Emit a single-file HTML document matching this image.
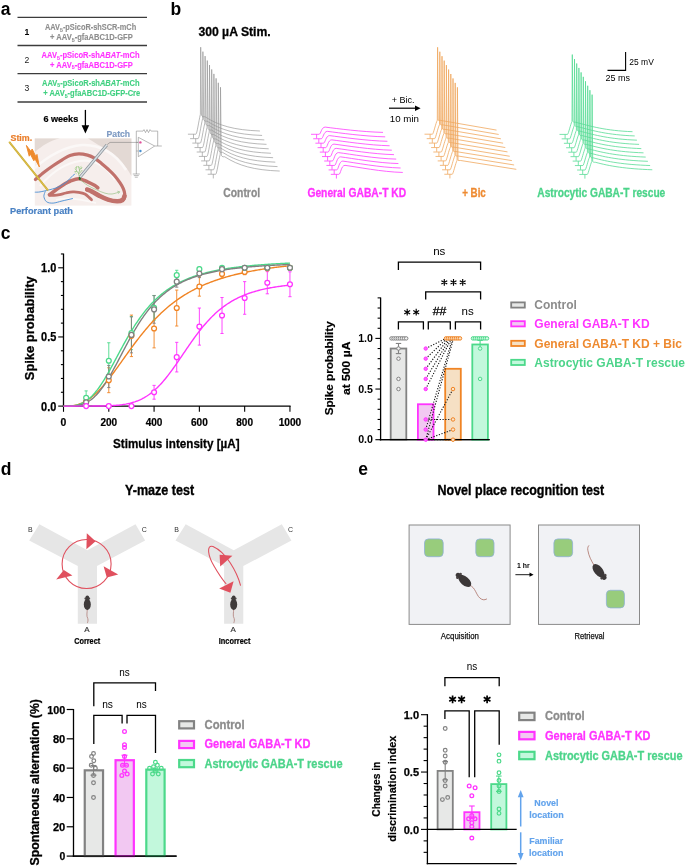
<!DOCTYPE html>
<html><head><meta charset="utf-8"><style>
html,body{margin:0;padding:0;background:#fff;}
svg{display:block;font-family:"Liberation Sans", sans-serif;will-change:transform;}
</style></head><body>
<svg width="685" height="867" viewBox="0 0 685 867">
<rect width="685" height="867" fill="#fff"/>
<text x="0.80" y="14.60" font-size="17.5" fill="#000" font-weight="bold" text-anchor="start">a</text>
<text x="170.50" y="14.70" font-size="17.5" fill="#000" font-weight="bold" text-anchor="start">b</text>
<text x="0.80" y="238.80" font-size="17.5" fill="#000" font-weight="bold" text-anchor="start">c</text>
<text x="0.80" y="474.80" font-size="17.5" fill="#000" font-weight="bold" text-anchor="start">d</text>
<text x="358.20" y="474.60" font-size="17.5" fill="#000" font-weight="bold" text-anchor="start">e</text>
<line x1="17.50" y1="17.40" x2="147.00" y2="17.40" stroke="#3c3c3c" stroke-width="1.3"/>
<line x1="17.50" y1="45.50" x2="147.00" y2="45.50" stroke="#3c3c3c" stroke-width="1.3"/>
<line x1="17.50" y1="73.60" x2="147.00" y2="73.60" stroke="#3c3c3c" stroke-width="1.3"/>
<line x1="17.50" y1="102.00" x2="147.00" y2="102.00" stroke="#3c3c3c" stroke-width="1.3"/>
<text x="24.40" y="34.70" font-size="8.6" fill="#000" font-weight="bold" text-anchor="start">1</text>
<text x="24.40" y="62.90" font-size="8.6" fill="#222" font-weight="normal" text-anchor="start">2</text>
<text x="24.40" y="91.10" font-size="8.6" fill="#222" font-weight="normal" text-anchor="start">3</text>
<text x="45.00" y="30.10" font-size="8.5" fill="#8e8e8e" stroke="#8e8e8e" stroke-width="0.12" font-weight="bold" textLength="91.20" lengthAdjust="spacingAndGlyphs"><tspan>AAV</tspan><tspan font-size="5.95" dy="1.7">5</tspan><tspan dy="-1.7">-pSicoR-shSCR-mCh</tspan></text>
<text x="50.10" y="39.90" font-size="8.5" fill="#8e8e8e" stroke="#8e8e8e" stroke-width="0.12" font-weight="bold" textLength="82.60" lengthAdjust="spacingAndGlyphs"><tspan>+ AAV</tspan><tspan font-size="5.95" dy="1.7">5</tspan><tspan dy="-1.7">-gfaABC1D-GFP</tspan></text>
<text x="41.60" y="58.10" font-size="8.5" fill="#ff33ff" stroke="#ff33ff" stroke-width="0.12" font-weight="bold" textLength="98.00" lengthAdjust="spacingAndGlyphs"><tspan>AAV</tspan><tspan font-size="5.95" dy="1.7">5</tspan><tspan dy="-1.7">-pSicoR-sh</tspan><tspan font-style="italic">ABAT</tspan><tspan>-mCh</tspan></text>
<text x="50.10" y="67.50" font-size="8.5" fill="#ff33ff" stroke="#ff33ff" stroke-width="0.12" font-weight="bold" textLength="82.60" lengthAdjust="spacingAndGlyphs"><tspan>+ AAV</tspan><tspan font-size="5.95" dy="1.7">5</tspan><tspan dy="-1.7">-gfaABC1D-GFP</tspan></text>
<text x="42.00" y="85.60" font-size="8.5" fill="#40d080" stroke="#40d080" stroke-width="0.12" font-weight="bold" textLength="97.50" lengthAdjust="spacingAndGlyphs"><tspan>AAV</tspan><tspan font-size="5.95" dy="1.7">5</tspan><tspan dy="-1.7">-pSicoR-sh</tspan><tspan font-style="italic">ABAT</tspan><tspan>-mCh</tspan></text>
<text x="43.20" y="96.10" font-size="8.5" fill="#40d080" stroke="#40d080" stroke-width="0.12" font-weight="bold" textLength="97.00" lengthAdjust="spacingAndGlyphs"><tspan>+ AAV</tspan><tspan font-size="5.95" dy="1.7">5</tspan><tspan dy="-1.7">-gfaABC1D-GFP-Cre</tspan></text>
<text x="43.40" y="121.70" font-size="9.2" fill="#000" font-weight="bold" text-anchor="start" textLength="34.80" lengthAdjust="spacingAndGlyphs" stroke="#000" stroke-width="0.2">6 weeks</text>
<line x1="85.40" y1="109.90" x2="85.40" y2="127.00" stroke="#000" stroke-width="1.3"/>
<path d="M81.6,125.2 L89.2,125.2 L85.4,133.6 Z" stroke="none" stroke-width="0" fill="#000"/>
<g id="hippo">
<rect x="34.80" y="138.40" width="96.60" height="67.20" fill="#f6eeec" stroke="none" stroke-width="1"/>
<path d="M34.8,138.4 L60,138.4 C50,140 42,146 34.8,152 Z" stroke="none" stroke-width="0" fill="#e3d9d4"/>
<path d="M88,138.4 L131.4,138.4 L131.4,176 C126,166 118,156 108,150 C100,146 94,142 88,138.4 Z" stroke="none" stroke-width="0" fill="#e3d9d4"/>
<path d="M34.8,168 C48,156 66,146 82,145 C100,144 116,154 126,170" stroke="#fbf8f7" stroke-width="2.5" fill="none"/>
<path d="M40,186 C52,172 66,163 80,161 C96,159 108,168 115,180" stroke="#fbf8f7" stroke-width="2.2" fill="none"/>
<path d="M56,200 C66,197 80,199 96,203" stroke="#fbf8f7" stroke-width="1.8" fill="none"/>
<path d="M35.40,179.50 C36.83,178.28 41.07,174.50 44.00,172.20 C46.93,169.90 49.97,167.77 53.00,165.70 C56.03,163.63 59.37,161.52 62.20,159.80 C65.03,158.08 67.23,156.40 70.00,155.40 C72.77,154.40 75.88,153.85 78.80,153.80 C81.72,153.75 84.88,154.38 87.50,155.10 C90.12,155.82 92.17,156.72 94.50,158.10 C96.83,159.48 99.17,161.50 101.50,163.40 C103.83,165.30 106.30,167.45 108.50,169.50 C110.70,171.55 112.80,173.50 114.70,175.70 C116.60,177.90 118.45,180.52 119.90,182.70 C121.35,184.88 122.60,186.92 123.40,188.80 C124.20,190.68 124.55,192.40 124.70,194.00 C124.85,195.60 124.95,197.23 124.30,198.40 C123.65,199.57 122.55,200.57 120.80,201.00 C119.05,201.43 116.43,201.43 113.80,201.00 C111.17,200.57 107.92,199.57 105.00,198.40 C102.08,197.23 98.78,195.32 96.30,194.00 C93.82,192.68 91.72,191.30 90.10,190.50 C88.48,189.70 87.18,189.42 86.60,189.20" stroke="#c1716b" stroke-width="3.2" fill="none" stroke-linecap="round" stroke-linejoin="round"/>
<path d="M124.50,196.00 C124.17,196.67 123.75,199.12 122.50,200.00 C121.25,200.88 119.42,201.37 117.00,201.30 C114.58,201.23 111.00,200.55 108.00,199.60 C105.00,198.65 101.67,196.93 99.00,195.60 C96.33,194.27 93.97,192.60 92.00,191.60 C90.03,190.60 88.00,189.93 87.20,189.60" stroke="#c1716b" stroke-width="4.6" fill="none" stroke-linecap="round"/>
<path d="M49.40,194.80 C50.25,194.17 52.78,192.25 54.50,191.00 C56.22,189.75 57.95,188.50 59.70,187.30 C61.45,186.10 63.28,184.82 65.00,183.80 C66.72,182.78 67.70,182.05 70.00,181.20 C72.30,180.35 75.88,178.60 78.80,178.70 C81.72,178.80 84.88,180.70 87.50,181.80 C90.12,182.90 92.78,184.30 94.50,185.30 C96.22,186.30 97.25,187.38 97.80,187.80" stroke="#c1716b" stroke-width="3.6" fill="none" stroke-linecap="round" stroke-linejoin="round"/>
<path d="M49.40,195.20 C50.17,195.23 52.28,195.50 54.00,195.40 C55.72,195.30 57.70,195.00 59.70,194.60 C61.70,194.20 63.80,193.45 66.00,193.00 C68.20,192.55 70.77,192.02 72.90,191.90 C75.03,191.78 76.80,191.95 78.80,192.30 C80.80,192.65 83.15,193.12 84.90,194.00 C86.65,194.88 88.20,196.65 89.30,197.60 C90.40,198.55 91.13,199.35 91.50,199.70" stroke="#c1716b" stroke-width="2.8" fill="none" stroke-linecap="round" stroke-linejoin="round"/>
<path d="M34.80,192.20 C35.67,192.15 37.72,192.27 40.00,191.90 C42.28,191.53 45.87,190.65 48.50,190.00 C51.13,189.35 53.72,188.75 55.80,188.00 C57.88,187.25 59.25,186.48 61.00,185.50 C62.75,184.52 64.80,183.27 66.30,182.10 C67.80,180.93 68.90,179.60 70.00,178.50 C71.10,177.40 72.10,176.22 72.90,175.50 C73.70,174.78 74.48,174.42 74.80,174.20" stroke="#4a8ed4" stroke-width="0.9" fill="none"/>
<path d="M45.30,191.30 C45.07,192.17 43.68,194.75 43.90,196.50 C44.12,198.25 45.07,200.70 46.60,201.80 C48.13,202.90 50.53,203.23 53.10,203.10 C55.67,202.97 58.70,201.77 62.00,201.00 C65.30,200.23 71.08,198.92 72.90,198.50" stroke="#4a8ed4" stroke-width="0.9" fill="none"/>
<path d="M79.60,179.20 C80.92,180.22 84.72,183.55 87.50,185.30 C90.28,187.05 93.38,188.38 96.30,189.70 C99.22,191.02 102.38,192.48 105.00,193.20 C107.62,193.92 109.58,194.22 112.00,194.00 C114.42,193.78 118.25,192.25 119.50,191.90" stroke="#8cbc78" stroke-width="0.6" fill="none"/>
<path d="M117.3,191.2 L119.7,191.8 L118.2,193.8" stroke="#8cbc78" stroke-width="0.6" fill="none"/>
<path d="M79.6,178 L78.5,173.5 M78.5,173.5 L75.5,169 M78.5,173.5 L80.5,168 M78.8,174 L82.3,170 M77,171.3 L74.4,171.8 M79.6,170.5 L78.5,166.2 M76,169.5 L76.5,166.5 M81.2,169 L82,167" stroke="#86c070" stroke-width="0.7" fill="none"/>
<path d="M74.6,168.5 L77,166.5 L79.6,167.5 L81.5,166.3 M75,172.5 L76.8,174" stroke="#a6d08e" stroke-width="0.6" fill="none"/>
<ellipse cx="79.8" cy="178.4" rx="1.1" ry="1.6" fill="#2b6e2b"/>
<line x1="106.80" y1="145.00" x2="80.20" y2="177.00" stroke="#8a9298" stroke-width="2.9"/>
<line x1="106.80" y1="145.00" x2="80.20" y2="177.00" stroke="#c8d0d6" stroke-width="1.7"/>
<line x1="106.80" y1="145.00" x2="80.20" y2="177.00" stroke="#eef2f4" stroke-width="0.5"/>
<path d="M107.2,144.6 L110,142.4 L138,142.4" stroke="#707070" stroke-width="0.5" fill="none"/>
<line x1="9.20" y1="141.80" x2="48.00" y2="190.40" stroke="#c9a82c" stroke-width="1.9"/>
<line x1="9.20" y1="141.80" x2="48.00" y2="190.40" stroke="#e2c858" stroke-width="0.8"/>
<path d="M26.4,145.4 L30.8,151.2 L32.2,149.0 L35.8,156.4 L37.0,154.4 L39.4,167.0 L35.0,158.9 L33.8,160.8 L30.4,154.2 L29.2,156.2 Z" stroke="#ee8a2c" stroke-width="0.9" fill="#ee8a2c" stroke-linejoin="round"/>
</g>
<path d="M136.3,131.1 L143,131.1 L144,129.6 L145.5,132.6 L147,129.6 L148.5,132.6 L150,129.6 L151.2,131.1 L157.7,131.1 L157.7,146 M154.7,146 L161.8,146 M136.3,131.1 L136.3,174 M138.3,137.3 L138.3,156.7 L154.7,146 Z M136.3,142.4 L138.3,142.4 M136.3,151 L138.3,151 M132.8,174 L139.8,174 M133.8,175.6 L138.8,175.6 M134.8,177.2 L137.8,177.2" stroke="#8a8a8a" stroke-width="0.6" fill="none"/>
<circle cx="140.40" cy="142.40" r="1.2" fill="#e0509a" stroke="none" stroke-width="1"/>
<circle cx="140.40" cy="151.00" r="1.2" fill="#4a90d0" stroke="none" stroke-width="1"/>
<text x="10.50" y="141.00" font-size="8.6" fill="#ea7f2c" font-weight="bold" text-anchor="start" textLength="21.70" lengthAdjust="spacingAndGlyphs" stroke="#ea7f2c" stroke-width="0.2">Stim.</text>
<text x="106.60" y="136.90" font-size="9.6" fill="#7f9bc3" font-weight="bold" text-anchor="start" textLength="23.50" lengthAdjust="spacingAndGlyphs" stroke="#7f9bc3" stroke-width="0.2">Patch</text>
<text x="10.00" y="214.10" font-size="9.6" fill="#4a82c4" font-weight="bold" text-anchor="start" textLength="63.00" lengthAdjust="spacingAndGlyphs" stroke="#4a82c4" stroke-width="0.2">Perforant path</text>
<text x="198.40" y="35.60" font-size="13.2" fill="#000" font-weight="bold" text-anchor="start" textLength="72.30" lengthAdjust="spacingAndGlyphs" stroke="#000" stroke-width="0.3">300 µA Stim.</text>
<path d="M187.90,134.20 h8.0 M193.50,134.20 v4.2 M195.90,134.20 C197.10,133.70 198.50,122.20 200.40,114.20 L200.70,47.20 L201.50,115.20 C202.40,117.20 203.90,116.70 204.90,116.70 C218.90,125.70 233.90,130.00 259.90,131.00" stroke="#939393" stroke-width="0.65" fill="none" stroke-linejoin="round"/>
<path d="M190.10,138.65 h8.0 M195.70,138.65 v4.2 M198.10,138.65 C199.30,138.15 200.70,126.65 202.60,118.65 L202.90,51.65 L203.70,119.65 C204.60,121.65 206.10,121.15 207.10,121.15 C221.10,130.15 236.10,134.45 262.10,135.45" stroke="#939393" stroke-width="0.65" fill="none" stroke-linejoin="round"/>
<path d="M192.30,143.10 h8.0 M197.90,143.10 v4.2 M200.30,143.10 C201.50,142.60 202.90,131.10 204.80,123.10 L205.10,56.10 L205.90,124.10 C206.80,126.10 208.30,125.60 209.30,125.60 C223.30,134.60 238.30,138.90 264.30,139.90" stroke="#939393" stroke-width="0.65" fill="none" stroke-linejoin="round"/>
<path d="M194.50,147.55 h8.0 M200.10,147.55 v4.2 M202.50,147.55 C203.70,147.05 205.10,135.55 207.00,127.55 L207.30,60.55 L208.10,128.55 C209.00,130.55 210.50,130.05 211.50,130.05 C225.50,139.05 240.50,143.35 266.50,144.35" stroke="#939393" stroke-width="0.65" fill="none" stroke-linejoin="round"/>
<path d="M196.70,152.00 h8.0 M202.30,152.00 v4.2 M204.70,152.00 C205.90,151.50 207.30,140.00 209.20,132.00 L209.50,65.00 L210.30,133.00 C211.20,135.00 212.70,134.50 213.70,134.50 C227.70,143.50 242.70,147.80 268.70,148.80" stroke="#939393" stroke-width="0.65" fill="none" stroke-linejoin="round"/>
<path d="M198.90,156.45 h8.0 M204.50,156.45 v4.2 M206.90,156.45 C208.10,155.95 209.50,144.45 211.40,136.45 L211.70,69.45 L212.50,137.45 C213.40,139.45 214.90,138.95 215.90,138.95 C229.90,147.95 244.90,152.25 270.90,153.25" stroke="#939393" stroke-width="0.65" fill="none" stroke-linejoin="round"/>
<path d="M201.10,160.90 h8.0 M206.70,160.90 v4.2 M209.10,160.90 C210.30,160.40 211.70,148.90 213.60,140.90 L213.90,73.90 L214.70,141.90 C215.60,143.90 217.10,143.40 218.10,143.40 C232.10,152.40 247.10,156.70 273.10,157.70" stroke="#939393" stroke-width="0.65" fill="none" stroke-linejoin="round"/>
<path d="M203.30,165.35 h8.0 M208.90,165.35 v4.2 M211.30,165.35 C212.50,164.85 213.90,153.35 215.80,145.35 L216.10,78.35 L216.90,146.35 C217.80,148.35 219.30,147.85 220.30,147.85 C234.30,156.85 249.30,161.15 275.30,162.15" stroke="#939393" stroke-width="0.65" fill="none" stroke-linejoin="round"/>
<path d="M205.50,169.80 h8.0 M211.10,169.80 v4.2 M213.50,169.80 C214.70,169.30 216.10,157.80 218.00,149.80 L218.30,82.80 L219.10,150.80 C220.00,152.80 221.50,152.30 222.50,152.30 C236.50,161.30 251.50,165.60 277.50,166.60" stroke="#939393" stroke-width="0.65" fill="none" stroke-linejoin="round"/>
<path d="M207.70,174.25 h8.0 M213.30,174.25 v4.2 M215.70,174.25 C216.90,173.75 218.30,162.25 220.20,154.25 L220.50,87.25 L221.30,155.25 C222.20,157.25 223.70,156.75 224.70,156.75 C238.70,165.75 253.70,170.05 279.70,171.05" stroke="#939393" stroke-width="0.65" fill="none" stroke-linejoin="round"/>
<path d="M311.00,134.30 h8.0 M316.60,134.30 v4.2 M319.00,134.30 C321.00,134.30 321.20,127.10 325.20,127.10 C337.00,128.60 362.00,131.90 383.00,132.40" stroke="#ff3cff" stroke-width="0.8" fill="none" stroke-linejoin="round"/>
<path d="M313.20,138.75 h8.0 M318.80,138.75 v4.2 M321.20,138.75 C323.20,138.75 323.40,131.35 327.40,131.35 C339.20,132.85 364.20,136.35 385.20,136.85" stroke="#ff3cff" stroke-width="0.8" fill="none" stroke-linejoin="round"/>
<path d="M315.40,143.20 h8.0 M321.00,143.20 v4.2 M323.40,143.20 C325.40,143.20 325.60,135.60 329.60,135.60 C341.40,137.10 366.40,140.80 387.40,141.30" stroke="#ff3cff" stroke-width="0.8" fill="none" stroke-linejoin="round"/>
<path d="M317.60,147.65 h8.0 M323.20,147.65 v4.2 M325.60,147.65 C327.60,147.65 327.80,139.85 331.80,139.85 C343.60,141.35 368.60,145.25 389.60,145.75" stroke="#ff3cff" stroke-width="0.8" fill="none" stroke-linejoin="round"/>
<path d="M319.80,152.10 h8.0 M325.40,152.10 v4.2 M327.80,152.10 C329.80,152.10 330.00,144.10 334.00,144.10 C345.80,145.60 370.80,149.70 391.80,150.20" stroke="#ff3cff" stroke-width="0.8" fill="none" stroke-linejoin="round"/>
<path d="M322.00,156.55 h8.0 M327.60,156.55 v4.2 M330.00,156.55 C332.00,156.55 332.20,148.35 336.20,148.35 C348.00,149.85 373.00,154.15 394.00,154.65" stroke="#ff3cff" stroke-width="0.8" fill="none" stroke-linejoin="round"/>
<path d="M324.20,161.00 h8.0 M329.80,161.00 v4.2 M332.20,161.00 C334.20,161.00 334.40,152.60 338.40,152.60 C350.20,154.10 375.20,158.60 396.20,159.10" stroke="#ff3cff" stroke-width="0.8" fill="none" stroke-linejoin="round"/>
<path d="M326.40,165.45 h8.0 M332.00,165.45 v4.2 M334.40,165.45 C336.40,165.45 336.60,156.85 340.60,156.85 C352.40,158.35 377.40,163.05 398.40,163.55" stroke="#ff3cff" stroke-width="0.8" fill="none" stroke-linejoin="round"/>
<path d="M328.60,169.90 h8.0 M334.20,169.90 v4.2 M336.60,169.90 C338.60,169.90 338.80,161.10 342.80,161.10 C354.60,162.60 379.60,167.50 400.60,168.00" stroke="#ff3cff" stroke-width="0.8" fill="none" stroke-linejoin="round"/>
<path d="M330.80,174.35 h8.0 M336.40,174.35 v4.2 M338.80,174.35 C340.80,174.35 341.00,165.35 345.00,165.35 C356.80,166.85 381.80,171.95 402.80,172.45" stroke="#ff3cff" stroke-width="0.8" fill="none" stroke-linejoin="round"/>
<path d="M424.50,134.20 h8.0 M430.10,134.20 v4.2 M432.50,134.20 C433.50,133.70 435.70,123.20 437.30,120.20 L437.60,47.30 L438.20,120.20 C439.00,120.70 439.50,120.40 440.50,120.40 L496.50,130.10" stroke="#f0a860" stroke-width="0.8" fill="none" stroke-linejoin="round"/>
<path d="M426.70,138.65 h8.0 M432.30,138.65 v4.2 M434.70,138.65 C435.70,138.15 437.90,127.65 439.50,124.65 L439.80,51.75 L440.40,124.65 C441.20,125.15 441.70,124.85 442.70,124.85 L498.70,134.46" stroke="#f0a860" stroke-width="0.8" fill="none" stroke-linejoin="round"/>
<path d="M428.90,143.10 h8.0 M434.50,143.10 v4.2 M436.90,143.10 C437.90,142.60 440.10,132.10 441.70,129.10 L442.00,56.20 L442.60,129.10 C443.40,129.60 443.90,129.30 444.90,129.30 L500.90,138.82" stroke="#f0a860" stroke-width="0.8" fill="none" stroke-linejoin="round"/>
<path d="M431.10,147.55 h8.0 M436.70,147.55 v4.2 M439.10,147.55 C440.10,147.05 442.30,136.55 443.90,133.55 L444.20,60.65 L444.80,133.55 C445.60,134.05 446.10,133.75 447.10,133.75 L503.10,143.18" stroke="#f0a860" stroke-width="0.8" fill="none" stroke-linejoin="round"/>
<path d="M433.30,152.00 h8.0 M438.90,152.00 v4.2 M441.30,152.00 C442.30,151.50 444.50,141.00 446.10,138.00 L446.40,65.10 L447.00,138.00 C447.80,138.50 448.30,138.20 449.30,138.20 L505.30,147.54" stroke="#f0a860" stroke-width="0.8" fill="none" stroke-linejoin="round"/>
<path d="M435.50,156.45 h8.0 M441.10,156.45 v4.2 M443.50,156.45 C444.50,155.95 446.70,145.45 448.30,142.45 L448.60,69.55 L449.20,142.45 C450.00,142.95 450.50,142.65 451.50,142.65 L507.50,151.90" stroke="#f0a860" stroke-width="0.8" fill="none" stroke-linejoin="round"/>
<path d="M437.70,160.90 h8.0 M443.30,160.90 v4.2 M445.70,160.90 C446.70,160.40 448.90,149.90 450.50,146.90 L450.80,74.00 L451.40,146.90 C452.20,147.40 452.70,147.10 453.70,147.10 L509.70,156.26" stroke="#f0a860" stroke-width="0.8" fill="none" stroke-linejoin="round"/>
<path d="M439.90,165.35 h8.0 M445.50,165.35 v4.2 M447.90,165.35 C448.90,164.85 451.10,154.35 452.70,151.35 L453.00,78.45 L453.60,151.35 C454.40,151.85 454.90,151.55 455.90,151.55 L511.90,160.62" stroke="#f0a860" stroke-width="0.8" fill="none" stroke-linejoin="round"/>
<path d="M442.10,169.80 h8.0 M447.70,169.80 v4.2 M450.10,169.80 C451.10,169.30 453.30,158.80 454.90,155.80 L455.20,82.90 L455.80,155.80 C456.60,156.30 457.10,156.00 458.10,156.00 L514.10,164.98" stroke="#f0a860" stroke-width="0.8" fill="none" stroke-linejoin="round"/>
<path d="M444.30,174.25 h8.0 M449.90,174.25 v4.2 M452.30,174.25 C453.30,173.75 455.50,163.25 457.10,160.25 L457.40,87.35 L458.00,160.25 C458.80,160.75 459.30,160.45 460.30,160.45 L516.30,169.34" stroke="#f0a860" stroke-width="0.8" fill="none" stroke-linejoin="round"/>
<path d="M559.50,134.40 h8.0 M565.10,134.40 v4.2 M567.50,134.40 C568.50,133.90 570.50,124.40 572.00,121.40 L572.30,54.60 L572.90,121.40 C573.80,122.40 574.50,122.20 575.50,122.20 C590.50,126.20 605.50,130.70 632.50,131.70" stroke="#58dc96" stroke-width="0.8" fill="none" stroke-linejoin="round"/>
<path d="M561.70,138.85 h8.0 M567.30,138.85 v4.2 M569.70,138.85 C570.70,138.35 572.70,128.85 574.20,125.85 L574.50,59.05 L575.10,125.85 C576.00,126.85 576.70,126.65 577.70,126.65 C592.70,130.65 607.70,134.93 634.70,135.93" stroke="#58dc96" stroke-width="0.8" fill="none" stroke-linejoin="round"/>
<path d="M563.90,143.30 h8.0 M569.50,143.30 v4.2 M571.90,143.30 C572.90,142.80 574.90,133.30 576.40,130.30 L576.70,63.50 L577.30,130.30 C578.20,131.30 578.90,131.10 579.90,131.10 C594.90,135.10 609.90,139.16 636.90,140.16" stroke="#58dc96" stroke-width="0.8" fill="none" stroke-linejoin="round"/>
<path d="M566.10,147.75 h8.0 M571.70,147.75 v4.2 M574.10,147.75 C575.10,147.25 577.10,137.75 578.60,134.75 L578.90,67.95 L579.50,134.75 C580.40,135.75 581.10,135.55 582.10,135.55 C597.10,139.55 612.10,143.39 639.10,144.39" stroke="#58dc96" stroke-width="0.8" fill="none" stroke-linejoin="round"/>
<path d="M568.30,152.20 h8.0 M573.90,152.20 v4.2 M576.30,152.20 C577.30,151.70 579.30,142.20 580.80,139.20 L581.10,72.40 L581.70,139.20 C582.60,140.20 583.30,140.00 584.30,140.00 C599.30,144.00 614.30,147.62 641.30,148.62" stroke="#58dc96" stroke-width="0.8" fill="none" stroke-linejoin="round"/>
<path d="M570.50,156.65 h8.0 M576.10,156.65 v4.2 M578.50,156.65 C579.50,156.15 581.50,146.65 583.00,143.65 L583.30,76.85 L583.90,143.65 C584.80,144.65 585.50,144.45 586.50,144.45 C601.50,148.45 616.50,151.85 643.50,152.85" stroke="#58dc96" stroke-width="0.8" fill="none" stroke-linejoin="round"/>
<path d="M572.70,161.10 h8.0 M578.30,161.10 v4.2 M580.70,161.10 C581.70,160.60 583.70,151.10 585.20,148.10 L585.50,81.30 L586.10,148.10 C587.00,149.10 587.70,148.90 588.70,148.90 C603.70,152.90 618.70,156.08 645.70,157.08" stroke="#58dc96" stroke-width="0.8" fill="none" stroke-linejoin="round"/>
<path d="M574.90,165.55 h8.0 M580.50,165.55 v4.2 M582.90,165.55 C583.90,165.05 585.90,155.55 587.40,152.55 L587.70,85.75 L588.30,152.55 C589.20,153.55 589.90,153.35 590.90,153.35 C605.90,157.35 620.90,160.31 647.90,161.31" stroke="#58dc96" stroke-width="0.8" fill="none" stroke-linejoin="round"/>
<path d="M577.10,170.00 h8.0 M582.70,170.00 v4.2 M585.10,170.00 C586.10,169.50 588.10,160.00 589.60,157.00 L589.90,90.20 L590.50,157.00 C591.40,158.00 592.10,157.80 593.10,157.80 C608.10,161.80 623.10,164.54 650.10,165.54" stroke="#58dc96" stroke-width="0.8" fill="none" stroke-linejoin="round"/>
<path d="M579.30,174.45 h8.0 M584.90,174.45 v4.2 M587.30,174.45 C588.30,173.95 590.30,164.45 591.80,161.45 L592.10,94.65 L592.70,161.45 C593.60,162.45 594.30,162.25 595.30,162.25 C610.30,166.25 625.30,168.77 652.30,169.77" stroke="#58dc96" stroke-width="0.8" fill="none" stroke-linejoin="round"/>
<path d="M607.5,70.4 L625.6,70.4 L625.6,52.1" stroke="#000" stroke-width="1.1" fill="none"/>
<text x="629.30" y="64.60" font-size="9.0" fill="#000" font-weight="normal" text-anchor="start" textLength="24.50" lengthAdjust="spacingAndGlyphs">25 mV</text>
<text x="605.40" y="81.20" font-size="9.0" fill="#000" font-weight="normal" text-anchor="start" textLength="24.50" lengthAdjust="spacingAndGlyphs">25 ms</text>
<text x="391.80" y="102.50" font-size="9.6" fill="#000" font-weight="normal" text-anchor="start" textLength="22.80" lengthAdjust="spacingAndGlyphs">+ Bic.</text>
<line x1="389.00" y1="108.20" x2="416.00" y2="108.20" stroke="#000" stroke-width="1.2"/>
<path d="M415,105.4 L420.6,108.2 L415,111 Z" stroke="none" stroke-width="0" fill="#000"/>
<text x="389.80" y="121.80" font-size="9.6" fill="#000" font-weight="normal" text-anchor="start" textLength="29.20" lengthAdjust="spacingAndGlyphs">10 min</text>
<text x="223.30" y="196.70" font-size="12.0" fill="#8c8c8c" font-weight="bold" text-anchor="start" textLength="36.80" lengthAdjust="spacingAndGlyphs" stroke="#8c8c8c" stroke-width="0.3">Control</text>
<text x="307.40" y="196.70" font-size="12.0" fill="#ff33ff" font-weight="bold" text-anchor="start" textLength="98.80" lengthAdjust="spacingAndGlyphs" stroke="#ff33ff" stroke-width="0.3">General GABA-T KD</text>
<text x="462.20" y="196.70" font-size="12.0" fill="#ee8a30" font-weight="bold" text-anchor="start" textLength="23.60" lengthAdjust="spacingAndGlyphs" stroke="#ee8a30" stroke-width="0.3">+ Bic</text>
<text x="537.30" y="196.70" font-size="12.0" fill="#4cd48a" font-weight="bold" text-anchor="start" textLength="128.00" lengthAdjust="spacingAndGlyphs" stroke="#4cd48a" stroke-width="0.3">Astrocytic GABA-T rescue</text>
<line x1="63.50" y1="253.60" x2="63.50" y2="406.75" stroke="#000" stroke-width="1.3"/>
<line x1="62.85" y1="406.10" x2="290.60" y2="406.10" stroke="#000" stroke-width="1.3"/>
<line x1="58.20" y1="406.10" x2="63.50" y2="406.10" stroke="#000" stroke-width="1.1"/>
<line x1="60.90" y1="392.27" x2="63.50" y2="392.27" stroke="#000" stroke-width="1.1"/>
<line x1="60.90" y1="378.44" x2="63.50" y2="378.44" stroke="#000" stroke-width="1.1"/>
<line x1="60.90" y1="364.61" x2="63.50" y2="364.61" stroke="#000" stroke-width="1.1"/>
<line x1="60.90" y1="350.78" x2="63.50" y2="350.78" stroke="#000" stroke-width="1.1"/>
<line x1="58.20" y1="336.95" x2="63.50" y2="336.95" stroke="#000" stroke-width="1.1"/>
<line x1="60.90" y1="323.12" x2="63.50" y2="323.12" stroke="#000" stroke-width="1.1"/>
<line x1="60.90" y1="309.29" x2="63.50" y2="309.29" stroke="#000" stroke-width="1.1"/>
<line x1="60.90" y1="295.46" x2="63.50" y2="295.46" stroke="#000" stroke-width="1.1"/>
<line x1="60.90" y1="281.63" x2="63.50" y2="281.63" stroke="#000" stroke-width="1.1"/>
<line x1="58.20" y1="267.80" x2="63.50" y2="267.80" stroke="#000" stroke-width="1.1"/>
<line x1="60.90" y1="253.97" x2="63.50" y2="253.97" stroke="#000" stroke-width="1.1"/>
<line x1="63.50" y1="406.10" x2="63.50" y2="411.80" stroke="#000" stroke-width="1.1"/>
<line x1="108.79" y1="406.10" x2="108.79" y2="411.80" stroke="#000" stroke-width="1.1"/>
<line x1="154.08" y1="406.10" x2="154.08" y2="411.80" stroke="#000" stroke-width="1.1"/>
<line x1="199.37" y1="406.10" x2="199.37" y2="411.80" stroke="#000" stroke-width="1.1"/>
<line x1="244.66" y1="406.10" x2="244.66" y2="411.80" stroke="#000" stroke-width="1.1"/>
<line x1="289.95" y1="406.10" x2="289.95" y2="411.80" stroke="#000" stroke-width="1.1"/>
<text x="56.30" y="410.60" font-size="12.0" fill="#000" font-weight="bold" text-anchor="end" textLength="15.20" lengthAdjust="spacingAndGlyphs" stroke="#000" stroke-width="0.25">0.0</text>
<text x="56.30" y="341.45" font-size="12.0" fill="#000" font-weight="bold" text-anchor="end" textLength="15.20" lengthAdjust="spacingAndGlyphs" stroke="#000" stroke-width="0.25">0.5</text>
<text x="56.30" y="272.30" font-size="12.0" fill="#000" font-weight="bold" text-anchor="end" textLength="15.20" lengthAdjust="spacingAndGlyphs" stroke="#000" stroke-width="0.25">1.0</text>
<text x="63.50" y="426.00" font-size="10.6" fill="#000" font-weight="bold" text-anchor="middle" textLength="5.80" lengthAdjust="spacingAndGlyphs" stroke="#000" stroke-width="0.2">0</text>
<text x="108.79" y="426.00" font-size="10.6" fill="#000" font-weight="bold" text-anchor="middle" textLength="16.80" lengthAdjust="spacingAndGlyphs" stroke="#000" stroke-width="0.2">200</text>
<text x="154.08" y="426.00" font-size="10.6" fill="#000" font-weight="bold" text-anchor="middle" textLength="16.80" lengthAdjust="spacingAndGlyphs" stroke="#000" stroke-width="0.2">400</text>
<text x="199.37" y="426.00" font-size="10.6" fill="#000" font-weight="bold" text-anchor="middle" textLength="16.80" lengthAdjust="spacingAndGlyphs" stroke="#000" stroke-width="0.2">600</text>
<text x="244.66" y="426.00" font-size="10.6" fill="#000" font-weight="bold" text-anchor="middle" textLength="16.80" lengthAdjust="spacingAndGlyphs" stroke="#000" stroke-width="0.2">800</text>
<text x="289.95" y="426.00" font-size="10.6" fill="#000" font-weight="bold" text-anchor="middle" textLength="22.60" lengthAdjust="spacingAndGlyphs" stroke="#000" stroke-width="0.2">1000</text>
<text x="113.10" y="448.00" font-size="13.6" fill="#000" font-weight="bold" text-anchor="start" textLength="126.50" lengthAdjust="spacingAndGlyphs" stroke="#000" stroke-width="0.3">Stimulus intensity [µA]</text>
<text x="34.20" y="328.30" font-size="12.4" fill="#000" font-weight="bold" text-anchor="middle" textLength="103.80" lengthAdjust="spacingAndGlyphs" transform="rotate(-90 34.20 328.30)" stroke="#000" stroke-width="0.3">Spike probability</text>
<line x1="86.14" y1="398.77" x2="86.14" y2="404.30" stroke="#f08424" stroke-width="0.9"/>
<line x1="84.55" y1="398.77" x2="87.74" y2="398.77" stroke="#f08424" stroke-width="0.9"/>
<line x1="84.55" y1="404.30" x2="87.74" y2="404.30" stroke="#f08424" stroke-width="0.9"/>
<line x1="108.79" y1="367.79" x2="108.79" y2="392.68" stroke="#f08424" stroke-width="0.9"/>
<line x1="107.19" y1="367.79" x2="110.39" y2="367.79" stroke="#f08424" stroke-width="0.9"/>
<line x1="107.19" y1="392.68" x2="110.39" y2="392.68" stroke="#f08424" stroke-width="0.9"/>
<line x1="131.44" y1="315.10" x2="131.44" y2="356.59" stroke="#f08424" stroke-width="0.9"/>
<line x1="129.84" y1="315.10" x2="133.03" y2="315.10" stroke="#f08424" stroke-width="0.9"/>
<line x1="129.84" y1="356.59" x2="133.03" y2="356.59" stroke="#f08424" stroke-width="0.9"/>
<line x1="154.08" y1="309.15" x2="154.08" y2="347.88" stroke="#f08424" stroke-width="0.9"/>
<line x1="152.48" y1="309.15" x2="155.68" y2="309.15" stroke="#f08424" stroke-width="0.9"/>
<line x1="152.48" y1="347.88" x2="155.68" y2="347.88" stroke="#f08424" stroke-width="0.9"/>
<line x1="176.73" y1="290.07" x2="176.73" y2="326.02" stroke="#f08424" stroke-width="0.9"/>
<line x1="175.13" y1="290.07" x2="178.33" y2="290.07" stroke="#f08424" stroke-width="0.9"/>
<line x1="175.13" y1="326.02" x2="178.33" y2="326.02" stroke="#f08424" stroke-width="0.9"/>
<line x1="199.37" y1="276.79" x2="199.37" y2="296.15" stroke="#f08424" stroke-width="0.9"/>
<line x1="197.77" y1="276.79" x2="200.97" y2="276.79" stroke="#f08424" stroke-width="0.9"/>
<line x1="197.77" y1="296.15" x2="200.97" y2="296.15" stroke="#f08424" stroke-width="0.9"/>
<line x1="222.02" y1="269.74" x2="222.02" y2="278.03" stroke="#f08424" stroke-width="0.9"/>
<line x1="220.42" y1="269.74" x2="223.62" y2="269.74" stroke="#f08424" stroke-width="0.9"/>
<line x1="220.42" y1="278.03" x2="223.62" y2="278.03" stroke="#f08424" stroke-width="0.9"/>
<line x1="244.66" y1="269.18" x2="244.66" y2="274.72" stroke="#f08424" stroke-width="0.9"/>
<line x1="243.06" y1="269.18" x2="246.26" y2="269.18" stroke="#f08424" stroke-width="0.9"/>
<line x1="243.06" y1="274.72" x2="246.26" y2="274.72" stroke="#f08424" stroke-width="0.9"/>
<line x1="267.31" y1="266.97" x2="267.31" y2="269.74" stroke="#f08424" stroke-width="0.9"/>
<line x1="265.70" y1="266.97" x2="268.91" y2="266.97" stroke="#f08424" stroke-width="0.9"/>
<line x1="265.70" y1="269.74" x2="268.91" y2="269.74" stroke="#f08424" stroke-width="0.9"/>
<line x1="86.14" y1="390.89" x2="86.14" y2="404.72" stroke="#4cd98a" stroke-width="0.9"/>
<line x1="84.55" y1="390.89" x2="87.74" y2="390.89" stroke="#4cd98a" stroke-width="0.9"/>
<line x1="84.55" y1="404.72" x2="87.74" y2="404.72" stroke="#4cd98a" stroke-width="0.9"/>
<line x1="108.79" y1="342.76" x2="108.79" y2="378.72" stroke="#4cd98a" stroke-width="0.9"/>
<line x1="107.19" y1="342.76" x2="110.39" y2="342.76" stroke="#4cd98a" stroke-width="0.9"/>
<line x1="107.19" y1="378.72" x2="110.39" y2="378.72" stroke="#4cd98a" stroke-width="0.9"/>
<line x1="131.44" y1="316.48" x2="131.44" y2="349.67" stroke="#4cd98a" stroke-width="0.9"/>
<line x1="129.84" y1="316.48" x2="133.03" y2="316.48" stroke="#4cd98a" stroke-width="0.9"/>
<line x1="129.84" y1="349.67" x2="133.03" y2="349.67" stroke="#4cd98a" stroke-width="0.9"/>
<line x1="154.08" y1="295.46" x2="154.08" y2="320.35" stroke="#4cd98a" stroke-width="0.9"/>
<line x1="152.48" y1="295.46" x2="155.68" y2="295.46" stroke="#4cd98a" stroke-width="0.9"/>
<line x1="152.48" y1="320.35" x2="155.68" y2="320.35" stroke="#4cd98a" stroke-width="0.9"/>
<line x1="176.73" y1="270.29" x2="176.73" y2="279.97" stroke="#4cd98a" stroke-width="0.9"/>
<line x1="175.13" y1="270.29" x2="178.33" y2="270.29" stroke="#4cd98a" stroke-width="0.9"/>
<line x1="175.13" y1="279.97" x2="178.33" y2="279.97" stroke="#4cd98a" stroke-width="0.9"/>
<line x1="199.37" y1="267.11" x2="199.37" y2="271.26" stroke="#4cd98a" stroke-width="0.9"/>
<line x1="197.77" y1="267.11" x2="200.97" y2="267.11" stroke="#4cd98a" stroke-width="0.9"/>
<line x1="197.77" y1="271.26" x2="200.97" y2="271.26" stroke="#4cd98a" stroke-width="0.9"/>
<line x1="86.14" y1="399.60" x2="86.14" y2="405.13" stroke="#808080" stroke-width="0.9"/>
<line x1="84.55" y1="399.60" x2="87.74" y2="399.60" stroke="#808080" stroke-width="0.9"/>
<line x1="84.55" y1="405.13" x2="87.74" y2="405.13" stroke="#808080" stroke-width="0.9"/>
<line x1="108.79" y1="365.44" x2="108.79" y2="387.57" stroke="#808080" stroke-width="0.9"/>
<line x1="107.19" y1="365.44" x2="110.39" y2="365.44" stroke="#808080" stroke-width="0.9"/>
<line x1="107.19" y1="387.57" x2="110.39" y2="387.57" stroke="#808080" stroke-width="0.9"/>
<line x1="131.44" y1="316.90" x2="131.44" y2="352.85" stroke="#808080" stroke-width="0.9"/>
<line x1="129.84" y1="316.90" x2="133.03" y2="316.90" stroke="#808080" stroke-width="0.9"/>
<line x1="129.84" y1="352.85" x2="133.03" y2="352.85" stroke="#808080" stroke-width="0.9"/>
<line x1="154.08" y1="295.60" x2="154.08" y2="323.26" stroke="#808080" stroke-width="0.9"/>
<line x1="152.48" y1="295.60" x2="155.68" y2="295.60" stroke="#808080" stroke-width="0.9"/>
<line x1="152.48" y1="323.26" x2="155.68" y2="323.26" stroke="#808080" stroke-width="0.9"/>
<line x1="176.73" y1="276.10" x2="176.73" y2="287.16" stroke="#808080" stroke-width="0.9"/>
<line x1="175.13" y1="276.10" x2="178.33" y2="276.10" stroke="#808080" stroke-width="0.9"/>
<line x1="175.13" y1="287.16" x2="178.33" y2="287.16" stroke="#808080" stroke-width="0.9"/>
<line x1="199.37" y1="269.32" x2="199.37" y2="277.62" stroke="#808080" stroke-width="0.9"/>
<line x1="197.77" y1="269.32" x2="200.97" y2="269.32" stroke="#808080" stroke-width="0.9"/>
<line x1="197.77" y1="277.62" x2="200.97" y2="277.62" stroke="#808080" stroke-width="0.9"/>
<line x1="222.02" y1="267.80" x2="222.02" y2="270.57" stroke="#808080" stroke-width="0.9"/>
<line x1="220.42" y1="267.80" x2="223.62" y2="267.80" stroke="#808080" stroke-width="0.9"/>
<line x1="220.42" y1="270.57" x2="223.62" y2="270.57" stroke="#808080" stroke-width="0.9"/>
<line x1="154.08" y1="385.36" x2="154.08" y2="399.19" stroke="#ff33ff" stroke-width="0.9"/>
<line x1="152.48" y1="385.36" x2="155.68" y2="385.36" stroke="#ff33ff" stroke-width="0.9"/>
<line x1="152.48" y1="399.19" x2="155.68" y2="399.19" stroke="#ff33ff" stroke-width="0.9"/>
<line x1="176.73" y1="342.34" x2="176.73" y2="371.94" stroke="#ff33ff" stroke-width="0.9"/>
<line x1="175.13" y1="342.34" x2="178.33" y2="342.34" stroke="#ff33ff" stroke-width="0.9"/>
<line x1="175.13" y1="371.94" x2="178.33" y2="371.94" stroke="#ff33ff" stroke-width="0.9"/>
<line x1="199.37" y1="308.05" x2="199.37" y2="345.11" stroke="#ff33ff" stroke-width="0.9"/>
<line x1="197.77" y1="308.05" x2="200.97" y2="308.05" stroke="#ff33ff" stroke-width="0.9"/>
<line x1="197.77" y1="345.11" x2="200.97" y2="345.11" stroke="#ff33ff" stroke-width="0.9"/>
<line x1="222.02" y1="297.53" x2="222.02" y2="333.49" stroke="#ff33ff" stroke-width="0.9"/>
<line x1="220.42" y1="297.53" x2="223.62" y2="297.53" stroke="#ff33ff" stroke-width="0.9"/>
<line x1="220.42" y1="333.49" x2="223.62" y2="333.49" stroke="#ff33ff" stroke-width="0.9"/>
<line x1="244.66" y1="281.63" x2="244.66" y2="314.27" stroke="#ff33ff" stroke-width="0.9"/>
<line x1="243.06" y1="281.63" x2="246.26" y2="281.63" stroke="#ff33ff" stroke-width="0.9"/>
<line x1="243.06" y1="314.27" x2="246.26" y2="314.27" stroke="#ff33ff" stroke-width="0.9"/>
<line x1="267.31" y1="271.67" x2="267.31" y2="293.80" stroke="#ff33ff" stroke-width="0.9"/>
<line x1="265.70" y1="271.67" x2="268.91" y2="271.67" stroke="#ff33ff" stroke-width="0.9"/>
<line x1="265.70" y1="293.80" x2="268.91" y2="293.80" stroke="#ff33ff" stroke-width="0.9"/>
<line x1="289.95" y1="271.81" x2="289.95" y2="296.70" stroke="#ff33ff" stroke-width="0.9"/>
<line x1="288.35" y1="271.81" x2="291.55" y2="271.81" stroke="#ff33ff" stroke-width="0.9"/>
<line x1="288.35" y1="296.70" x2="291.55" y2="296.70" stroke="#ff33ff" stroke-width="0.9"/>
<path d="M63.50,406.10 L64.63,406.10 L65.76,406.09 L66.90,406.06 L68.03,406.02 L69.16,405.95 L70.29,405.86 L71.43,405.75 L72.56,405.60 L73.69,405.42 L74.82,405.21 L75.95,404.96 L77.09,404.67 L78.22,404.34 L79.35,403.98 L80.48,403.56 L81.62,403.11 L82.75,402.61 L83.88,402.07 L85.01,401.48 L86.14,400.84 L87.28,400.15 L88.41,399.42 L89.54,398.64 L90.67,397.82 L91.81,396.95 L92.94,396.03 L94.07,395.06 L95.20,394.06 L96.34,393.01 L97.47,391.91 L98.60,390.78 L99.73,389.60 L100.86,388.39 L102.00,387.14 L103.13,385.85 L104.26,384.53 L105.39,383.18 L106.53,381.80 L107.66,380.39 L108.79,378.96 L109.92,377.50 L111.05,376.02 L112.19,374.52 L113.32,373.00 L114.45,371.47 L115.58,369.92 L116.72,368.36 L117.85,366.79 L118.98,365.21 L120.11,363.63 L121.24,362.04 L122.38,360.45 L123.51,358.86 L124.64,357.28 L125.77,355.69 L126.91,354.11 L128.04,352.53 L129.17,350.96 L130.30,349.40 L131.44,347.85 L132.57,346.31 L133.70,344.78 L134.83,343.27 L135.96,341.77 L137.10,340.28 L138.23,338.81 L139.36,337.35 L140.49,335.91 L141.63,334.49 L142.76,333.09 L143.89,331.70 L145.02,330.34 L146.15,328.99 L147.29,327.67 L148.42,326.36 L149.55,325.07 L150.68,323.81 L151.82,322.56 L152.95,321.34 L154.08,320.13 L155.21,318.95 L156.34,317.78 L157.48,316.64 L158.61,315.52 L159.74,314.42 L160.87,313.34 L162.01,312.27 L163.14,311.23 L164.27,310.21 L165.40,309.21 L166.53,308.23 L167.67,307.26 L168.80,306.32 L169.93,305.39 L171.06,304.48 L172.20,303.59 L173.33,302.72 L174.46,301.87 L175.59,301.03 L176.73,300.21 L177.86,299.41 L178.99,298.63 L180.12,297.86 L181.25,297.10 L182.39,296.36 L183.52,295.64 L184.65,294.93 L185.78,294.24 L186.92,293.56 L188.05,292.90 L189.18,292.25 L190.31,291.61 L191.44,290.99 L192.58,290.38 L193.71,289.78 L194.84,289.19 L195.97,288.62 L197.11,288.06 L198.24,287.51 L199.37,286.97 L200.50,286.45 L201.63,285.93 L202.77,285.43 L203.90,284.93 L205.03,284.45 L206.16,283.97 L207.30,283.51 L208.43,283.05 L209.56,282.61 L210.69,282.17 L211.82,281.75 L212.96,281.33 L214.09,280.92 L215.22,280.52 L216.35,280.12 L217.49,279.74 L218.62,279.36 L219.75,278.99 L220.88,278.63 L222.02,278.27 L223.15,277.92 L224.28,277.58 L225.41,277.25 L226.54,276.92 L227.68,276.60 L228.81,276.29 L229.94,275.98 L231.07,275.67 L232.21,275.38 L233.34,275.09 L234.47,274.80 L235.60,274.52 L236.73,274.25 L237.87,273.98 L239.00,273.72 L240.13,273.46 L241.26,273.20 L242.40,272.95 L243.53,272.71 L244.66,272.47 L245.79,272.23 L246.92,272.00 L248.06,271.78 L249.19,271.55 L250.32,271.34 L251.45,271.12 L252.59,270.91 L253.72,270.71 L254.85,270.50 L255.98,270.30 L257.11,270.11 L258.25,269.92 L259.38,269.73 L260.51,269.54 L261.64,269.36 L262.78,269.18 L263.91,269.01 L265.04,268.84 L266.17,268.67 L267.31,268.50 L268.44,268.34 L269.57,268.18 L270.70,268.02 L271.83,267.87 L272.97,267.71 L274.10,267.56 L275.23,267.42 L276.36,267.27 L277.50,267.13 L278.63,266.99 L279.76,266.85 L280.89,266.72 L282.02,266.58 L283.16,266.45 L284.29,266.33 L285.42,266.20 L286.55,266.08 L287.69,265.95 L288.82,265.83 L289.95,265.71" stroke="#f08424" stroke-width="1.4" fill="none"/>
<path d="M63.50,406.10 L64.63,406.10 L65.76,406.10 L66.90,406.08 L68.03,406.06 L69.16,406.02 L70.29,405.96 L71.43,405.88 L72.56,405.77 L73.69,405.63 L74.82,405.46 L75.95,405.24 L77.09,404.98 L78.22,404.67 L79.35,404.31 L80.48,403.90 L81.62,403.43 L82.75,402.89 L83.88,402.30 L85.01,401.64 L86.14,400.91 L87.28,400.11 L88.41,399.23 L89.54,398.29 L90.67,397.27 L91.81,396.17 L92.94,395.01 L94.07,393.76 L95.20,392.45 L96.34,391.06 L97.47,389.61 L98.60,388.08 L99.73,386.49 L100.86,384.84 L102.00,383.13 L103.13,381.36 L104.26,379.54 L105.39,377.67 L106.53,375.76 L107.66,373.80 L108.79,371.81 L109.92,369.79 L111.05,367.74 L112.19,365.67 L113.32,363.59 L114.45,361.48 L115.58,359.37 L116.72,357.26 L117.85,355.14 L118.98,353.03 L120.11,350.92 L121.24,348.83 L122.38,346.75 L123.51,344.68 L124.64,342.64 L125.77,340.61 L126.91,338.61 L128.04,336.64 L129.17,334.70 L130.30,332.79 L131.44,330.91 L132.57,329.06 L133.70,327.25 L134.83,325.48 L135.96,323.74 L137.10,322.04 L138.23,320.37 L139.36,318.75 L140.49,317.16 L141.63,315.61 L142.76,314.10 L143.89,312.62 L145.02,311.19 L146.15,309.79 L147.29,308.43 L148.42,307.10 L149.55,305.81 L150.68,304.56 L151.82,303.34 L152.95,302.16 L154.08,301.01 L155.21,299.89 L156.34,298.81 L157.48,297.76 L158.61,296.73 L159.74,295.74 L160.87,294.78 L162.01,293.85 L163.14,292.94 L164.27,292.06 L165.40,291.21 L166.53,290.38 L167.67,289.58 L168.80,288.80 L169.93,288.04 L171.06,287.31 L172.20,286.60 L173.33,285.91 L174.46,285.25 L175.59,284.60 L176.73,283.97 L177.86,283.36 L178.99,282.77 L180.12,282.19 L181.25,281.64 L182.39,281.10 L183.52,280.57 L184.65,280.06 L185.78,279.57 L186.92,279.09 L188.05,278.63 L189.18,278.17 L190.31,277.74 L191.44,277.31 L192.58,276.90 L193.71,276.50 L194.84,276.11 L195.97,275.73 L197.11,275.36 L198.24,275.00 L199.37,274.66 L200.50,274.32 L201.63,273.99 L202.77,273.67 L203.90,273.36 L205.03,273.06 L206.16,272.77 L207.30,272.48 L208.43,272.20 L209.56,271.94 L210.69,271.67 L211.82,271.42 L212.96,271.17 L214.09,270.93 L215.22,270.69 L216.35,270.46 L217.49,270.24 L218.62,270.02 L219.75,269.81 L220.88,269.60 L222.02,269.40 L223.15,269.21 L224.28,269.02 L225.41,268.83 L226.54,268.65 L227.68,268.47 L228.81,268.30 L229.94,268.14 L231.07,267.97 L232.21,267.81 L233.34,267.66 L234.47,267.50 L235.60,267.36 L236.73,267.21 L237.87,267.07 L239.00,266.93 L240.13,266.80 L241.26,266.67 L242.40,266.54 L243.53,266.42 L244.66,266.29 L245.79,266.17 L246.92,266.06 L248.06,265.94 L249.19,265.83 L250.32,265.72 L251.45,265.62 L252.59,265.52 L253.72,265.41 L254.85,265.31 L255.98,265.22 L257.11,265.12 L258.25,265.03 L259.38,264.94 L260.51,264.85 L261.64,264.76 L262.78,264.68 L263.91,264.60 L265.04,264.52 L266.17,264.44 L267.31,264.36 L268.44,264.28 L269.57,264.21 L270.70,264.14 L271.83,264.06 L272.97,263.99 L274.10,263.93 L275.23,263.86 L276.36,263.79 L277.50,263.73 L278.63,263.67 L279.76,263.60 L280.89,263.54 L282.02,263.48 L283.16,263.43 L284.29,263.37 L285.42,263.31 L286.55,263.26 L287.69,263.21 L288.82,263.15 L289.95,263.10" stroke="#4cd98a" stroke-width="1.4" fill="none"/>
<path d="M63.50,406.10 L64.63,406.10 L65.76,406.10 L66.90,406.09 L68.03,406.08 L69.16,406.07 L70.29,406.04 L71.43,406.00 L72.56,405.94 L73.69,405.86 L74.82,405.76 L75.95,405.63 L77.09,405.47 L78.22,405.28 L79.35,405.05 L80.48,404.78 L81.62,404.47 L82.75,404.11 L83.88,403.69 L85.01,403.23 L86.14,402.70 L87.28,402.11 L88.41,401.47 L89.54,400.75 L90.67,399.97 L91.81,399.12 L92.94,398.19 L94.07,397.19 L95.20,396.12 L96.34,394.98 L97.47,393.76 L98.60,392.46 L99.73,391.09 L100.86,389.66 L102.00,388.14 L103.13,386.57 L104.26,384.92 L105.39,383.21 L106.53,381.44 L107.66,379.62 L108.79,377.74 L109.92,375.81 L111.05,373.84 L112.19,371.83 L113.32,369.78 L114.45,367.70 L115.58,365.60 L116.72,363.47 L117.85,361.33 L118.98,359.17 L120.11,357.01 L121.24,354.84 L122.38,352.68 L123.51,350.52 L124.64,348.37 L125.77,346.24 L126.91,344.12 L128.04,342.02 L129.17,339.94 L130.30,337.89 L131.44,335.87 L132.57,333.88 L133.70,331.92 L134.83,329.99 L135.96,328.10 L137.10,326.25 L138.23,324.44 L139.36,322.66 L140.49,320.93 L141.63,319.23 L142.76,317.58 L143.89,315.97 L145.02,314.39 L146.15,312.86 L147.29,311.37 L148.42,309.93 L149.55,308.52 L150.68,307.15 L151.82,305.82 L152.95,304.53 L154.08,303.28 L155.21,302.06 L156.34,300.88 L157.48,299.74 L158.61,298.63 L159.74,297.56 L160.87,296.52 L162.01,295.51 L163.14,294.53 L164.27,293.59 L165.40,292.67 L166.53,291.79 L167.67,290.93 L168.80,290.10 L169.93,289.29 L171.06,288.52 L172.20,287.76 L173.33,287.03 L174.46,286.33 L175.59,285.65 L176.73,284.99 L177.86,284.35 L178.99,283.73 L180.12,283.13 L181.25,282.55 L182.39,281.99 L183.52,281.45 L184.65,280.92 L185.78,280.41 L186.92,279.92 L188.05,279.44 L189.18,278.98 L190.31,278.53 L191.44,278.10 L192.58,277.68 L193.71,277.27 L194.84,276.87 L195.97,276.49 L197.11,276.12 L198.24,275.76 L199.37,275.41 L200.50,275.08 L201.63,274.75 L202.77,274.43 L203.90,274.12 L205.03,273.83 L206.16,273.54 L207.30,273.25 L208.43,272.98 L209.56,272.72 L210.69,272.46 L211.82,272.21 L212.96,271.97 L214.09,271.73 L215.22,271.50 L216.35,271.28 L217.49,271.07 L218.62,270.86 L219.75,270.65 L220.88,270.46 L222.02,270.26 L223.15,270.08 L224.28,269.89 L225.41,269.72 L226.54,269.55 L227.68,269.38 L228.81,269.22 L229.94,269.06 L231.07,268.90 L232.21,268.75 L233.34,268.61 L234.47,268.47 L235.60,268.33 L236.73,268.19 L237.87,268.06 L239.00,267.93 L240.13,267.81 L241.26,267.69 L242.40,267.57 L243.53,267.45 L244.66,267.34 L245.79,267.23 L246.92,267.13 L248.06,267.02 L249.19,266.92 L250.32,266.82 L251.45,266.73 L252.59,266.63 L253.72,266.54 L254.85,266.45 L255.98,266.36 L257.11,266.28 L258.25,266.19 L259.38,266.11 L260.51,266.03 L261.64,265.96 L262.78,265.88 L263.91,265.81 L265.04,265.73 L266.17,265.66 L267.31,265.59 L268.44,265.53 L269.57,265.46 L270.70,265.40 L271.83,265.33 L272.97,265.27 L274.10,265.21 L275.23,265.15 L276.36,265.10 L277.50,265.04 L278.63,264.98 L279.76,264.93 L280.89,264.88 L282.02,264.83 L283.16,264.78 L284.29,264.73 L285.42,264.68 L286.55,264.63 L287.69,264.59 L288.82,264.54 L289.95,264.50" stroke="#808080" stroke-width="1.4" fill="none"/>
<path d="M63.50,406.10 L64.63,406.10 L65.76,406.10 L66.90,406.10 L68.03,406.10 L69.16,406.10 L70.29,406.10 L71.43,406.10 L72.56,406.10 L73.69,406.10 L74.82,406.10 L75.95,406.10 L77.09,406.10 L78.22,406.10 L79.35,406.10 L80.48,406.10 L81.62,406.10 L82.75,406.10 L83.88,406.10 L85.01,406.10 L86.14,406.09 L87.28,406.09 L88.41,406.09 L89.54,406.09 L90.67,406.08 L91.81,406.08 L92.94,406.07 L94.07,406.07 L95.20,406.06 L96.34,406.05 L97.47,406.04 L98.60,406.03 L99.73,406.01 L100.86,406.00 L102.00,405.98 L103.13,405.96 L104.26,405.93 L105.39,405.90 L106.53,405.87 L107.66,405.83 L108.79,405.79 L109.92,405.74 L111.05,405.68 L112.19,405.62 L113.32,405.55 L114.45,405.48 L115.58,405.39 L116.72,405.30 L117.85,405.20 L118.98,405.08 L120.11,404.96 L121.24,404.82 L122.38,404.67 L123.51,404.50 L124.64,404.32 L125.77,404.13 L126.91,403.91 L128.04,403.68 L129.17,403.43 L130.30,403.16 L131.44,402.86 L132.57,402.54 L133.70,402.20 L134.83,401.84 L135.96,401.44 L137.10,401.02 L138.23,400.57 L139.36,400.09 L140.49,399.58 L141.63,399.03 L142.76,398.45 L143.89,397.84 L145.02,397.19 L146.15,396.50 L147.29,395.78 L148.42,395.02 L149.55,394.21 L150.68,393.37 L151.82,392.49 L152.95,391.56 L154.08,390.60 L155.21,389.59 L156.34,388.54 L157.48,387.45 L158.61,386.32 L159.74,385.14 L160.87,383.93 L162.01,382.68 L163.14,381.39 L164.27,380.06 L165.40,378.69 L166.53,377.29 L167.67,375.86 L168.80,374.40 L169.93,372.90 L171.06,371.38 L172.20,369.83 L173.33,368.26 L174.46,366.67 L175.59,365.06 L176.73,363.43 L177.86,361.79 L178.99,360.14 L180.12,358.48 L181.25,356.81 L182.39,355.14 L183.52,353.47 L184.65,351.80 L185.78,350.13 L186.92,348.47 L188.05,346.82 L189.18,345.17 L190.31,343.54 L191.44,341.93 L192.58,340.33 L193.71,338.75 L194.84,337.18 L195.97,335.64 L197.11,334.13 L198.24,332.63 L199.37,331.16 L200.50,329.72 L201.63,328.30 L202.77,326.92 L203.90,325.56 L205.03,324.23 L206.16,322.92 L207.30,321.65 L208.43,320.41 L209.56,319.20 L210.69,318.02 L211.82,316.87 L212.96,315.75 L214.09,314.66 L215.22,313.59 L216.35,312.56 L217.49,311.56 L218.62,310.59 L219.75,309.64 L220.88,308.72 L222.02,307.84 L223.15,306.97 L224.28,306.14 L225.41,305.33 L226.54,304.54 L227.68,303.78 L228.81,303.05 L229.94,302.33 L231.07,301.64 L232.21,300.98 L233.34,300.33 L234.47,299.71 L235.60,299.11 L236.73,298.52 L237.87,297.96 L239.00,297.41 L240.13,296.89 L241.26,296.38 L242.40,295.89 L243.53,295.41 L244.66,294.95 L245.79,294.51 L246.92,294.08 L248.06,293.67 L249.19,293.27 L250.32,292.88 L251.45,292.51 L252.59,292.15 L253.72,291.80 L254.85,291.46 L255.98,291.14 L257.11,290.82 L258.25,290.52 L259.38,290.23 L260.51,289.94 L261.64,289.67 L262.78,289.40 L263.91,289.15 L265.04,288.90 L266.17,288.66 L267.31,288.43 L268.44,288.21 L269.57,287.99 L270.70,287.79 L271.83,287.58 L272.97,287.39 L274.10,287.20 L275.23,287.02 L276.36,286.84 L277.50,286.67 L278.63,286.51 L279.76,286.35 L280.89,286.19 L282.02,286.05 L283.16,285.90 L284.29,285.76 L285.42,285.63 L286.55,285.50 L287.69,285.37 L288.82,285.25 L289.95,285.13" stroke="#ff33ff" stroke-width="1.4" fill="none"/>
<circle cx="86.14" cy="401.54" r="2.45" fill="#fff" stroke="#f08424" stroke-width="1.25"/>
<circle cx="108.79" cy="380.24" r="2.45" fill="#fff" stroke="#f08424" stroke-width="1.25"/>
<circle cx="131.44" cy="335.84" r="2.45" fill="#fff" stroke="#f08424" stroke-width="1.25"/>
<circle cx="154.08" cy="328.51" r="2.45" fill="#fff" stroke="#f08424" stroke-width="1.25"/>
<circle cx="176.73" cy="308.05" r="2.45" fill="#fff" stroke="#f08424" stroke-width="1.25"/>
<circle cx="199.37" cy="286.47" r="2.45" fill="#fff" stroke="#f08424" stroke-width="1.25"/>
<circle cx="222.02" cy="273.89" r="2.45" fill="#fff" stroke="#f08424" stroke-width="1.25"/>
<circle cx="244.66" cy="271.95" r="2.45" fill="#fff" stroke="#f08424" stroke-width="1.25"/>
<circle cx="267.31" cy="268.35" r="2.45" fill="#fff" stroke="#f08424" stroke-width="1.25"/>
<circle cx="289.95" cy="267.80" r="2.45" fill="#fff" stroke="#f08424" stroke-width="1.25"/>
<circle cx="86.14" cy="397.80" r="2.45" fill="#fff" stroke="#4cd98a" stroke-width="1.25"/>
<circle cx="108.79" cy="360.74" r="2.45" fill="#fff" stroke="#4cd98a" stroke-width="1.25"/>
<circle cx="131.44" cy="333.08" r="2.45" fill="#fff" stroke="#4cd98a" stroke-width="1.25"/>
<circle cx="154.08" cy="307.91" r="2.45" fill="#fff" stroke="#4cd98a" stroke-width="1.25"/>
<circle cx="176.73" cy="275.13" r="2.45" fill="#fff" stroke="#4cd98a" stroke-width="1.25"/>
<circle cx="199.37" cy="269.18" r="2.45" fill="#fff" stroke="#4cd98a" stroke-width="1.25"/>
<circle cx="222.02" cy="267.80" r="2.45" fill="#fff" stroke="#4cd98a" stroke-width="1.25"/>
<circle cx="244.66" cy="267.80" r="2.45" fill="#fff" stroke="#4cd98a" stroke-width="1.25"/>
<circle cx="267.31" cy="267.80" r="2.45" fill="#fff" stroke="#4cd98a" stroke-width="1.25"/>
<circle cx="289.95" cy="267.80" r="2.45" fill="#fff" stroke="#4cd98a" stroke-width="1.25"/>
<circle cx="86.14" cy="402.37" r="2.45" fill="#fff" stroke="#808080" stroke-width="1.25"/>
<circle cx="108.79" cy="376.50" r="2.45" fill="#fff" stroke="#808080" stroke-width="1.25"/>
<circle cx="131.44" cy="334.88" r="2.45" fill="#fff" stroke="#808080" stroke-width="1.25"/>
<circle cx="154.08" cy="309.43" r="2.45" fill="#fff" stroke="#808080" stroke-width="1.25"/>
<circle cx="176.73" cy="281.63" r="2.45" fill="#fff" stroke="#808080" stroke-width="1.25"/>
<circle cx="199.37" cy="273.47" r="2.45" fill="#fff" stroke="#808080" stroke-width="1.25"/>
<circle cx="222.02" cy="269.18" r="2.45" fill="#fff" stroke="#808080" stroke-width="1.25"/>
<circle cx="244.66" cy="267.80" r="2.45" fill="#fff" stroke="#808080" stroke-width="1.25"/>
<circle cx="267.31" cy="267.80" r="2.45" fill="#fff" stroke="#808080" stroke-width="1.25"/>
<circle cx="289.95" cy="267.80" r="2.45" fill="#fff" stroke="#808080" stroke-width="1.25"/>
<circle cx="86.14" cy="406.10" r="2.45" fill="#fff" stroke="#ff33ff" stroke-width="1.25"/>
<circle cx="108.79" cy="406.10" r="2.45" fill="#fff" stroke="#ff33ff" stroke-width="1.25"/>
<circle cx="131.44" cy="406.10" r="2.45" fill="#fff" stroke="#ff33ff" stroke-width="1.25"/>
<circle cx="154.08" cy="392.27" r="2.45" fill="#fff" stroke="#ff33ff" stroke-width="1.25"/>
<circle cx="176.73" cy="357.14" r="2.45" fill="#fff" stroke="#ff33ff" stroke-width="1.25"/>
<circle cx="199.37" cy="326.58" r="2.45" fill="#fff" stroke="#ff33ff" stroke-width="1.25"/>
<circle cx="222.02" cy="315.51" r="2.45" fill="#fff" stroke="#ff33ff" stroke-width="1.25"/>
<circle cx="244.66" cy="297.95" r="2.45" fill="#fff" stroke="#ff33ff" stroke-width="1.25"/>
<circle cx="267.31" cy="282.74" r="2.45" fill="#fff" stroke="#ff33ff" stroke-width="1.25"/>
<circle cx="289.95" cy="284.26" r="2.45" fill="#fff" stroke="#ff33ff" stroke-width="1.25"/>
<line x1="380.60" y1="297.50" x2="380.60" y2="440.35" stroke="#000" stroke-width="1.3"/>
<line x1="379.75" y1="439.70" x2="489.60" y2="439.70" stroke="#000" stroke-width="1.3"/>
<line x1="375.40" y1="439.70" x2="380.60" y2="439.70" stroke="#000" stroke-width="1.1"/>
<line x1="377.60" y1="429.57" x2="380.60" y2="429.57" stroke="#000" stroke-width="1.1"/>
<line x1="377.60" y1="419.44" x2="380.60" y2="419.44" stroke="#000" stroke-width="1.1"/>
<line x1="377.60" y1="409.31" x2="380.60" y2="409.31" stroke="#000" stroke-width="1.1"/>
<line x1="377.60" y1="399.18" x2="380.60" y2="399.18" stroke="#000" stroke-width="1.1"/>
<line x1="375.40" y1="389.05" x2="380.60" y2="389.05" stroke="#000" stroke-width="1.1"/>
<line x1="377.60" y1="378.92" x2="380.60" y2="378.92" stroke="#000" stroke-width="1.1"/>
<line x1="377.60" y1="368.79" x2="380.60" y2="368.79" stroke="#000" stroke-width="1.1"/>
<line x1="377.60" y1="358.66" x2="380.60" y2="358.66" stroke="#000" stroke-width="1.1"/>
<line x1="377.60" y1="348.53" x2="380.60" y2="348.53" stroke="#000" stroke-width="1.1"/>
<line x1="375.40" y1="338.40" x2="380.60" y2="338.40" stroke="#000" stroke-width="1.1"/>
<line x1="377.60" y1="328.27" x2="380.60" y2="328.27" stroke="#000" stroke-width="1.1"/>
<line x1="377.60" y1="318.14" x2="380.60" y2="318.14" stroke="#000" stroke-width="1.1"/>
<line x1="377.60" y1="308.01" x2="380.60" y2="308.01" stroke="#000" stroke-width="1.1"/>
<line x1="377.60" y1="297.88" x2="380.60" y2="297.88" stroke="#000" stroke-width="1.1"/>
<text x="373.00" y="443.40" font-size="10.4" fill="#000" font-weight="bold" text-anchor="end" textLength="14.80" lengthAdjust="spacingAndGlyphs">0.0</text>
<text x="373.00" y="392.75" font-size="10.4" fill="#000" font-weight="bold" text-anchor="end" textLength="14.80" lengthAdjust="spacingAndGlyphs">0.5</text>
<text x="373.00" y="342.10" font-size="10.4" fill="#000" font-weight="bold" text-anchor="end" textLength="14.80" lengthAdjust="spacingAndGlyphs">1.0</text>
<text x="333.00" y="368.30" font-size="11.6" fill="#000" font-weight="bold" text-anchor="middle" textLength="94.00" lengthAdjust="spacingAndGlyphs" transform="rotate(-90 333.00 368.30)" stroke="#000" stroke-width="0.2">Spike probability</text>
<text x="349.60" y="368.30" font-size="11.6" fill="#000" font-weight="bold" text-anchor="middle" textLength="53.50" lengthAdjust="spacingAndGlyphs" transform="rotate(-90 349.60 368.30)" stroke="#000" stroke-width="0.2">at 500 µA</text>
<rect x="390.70" y="348.53" width="15.60" height="91.17" fill="#e7e8e7" stroke="#828282" stroke-width="1.8"/>
<rect x="417.90" y="404.25" width="15.60" height="35.45" fill="#f2c8f2" stroke="#ff33ff" stroke-width="1.8"/>
<rect x="445.20" y="368.79" width="15.60" height="70.91" fill="#f6e0c4" stroke="#f08424" stroke-width="1.8"/>
<rect x="472.30" y="344.48" width="15.60" height="95.22" fill="#c2f8dc" stroke="#4cd98a" stroke-width="1.8"/>
<line x1="379.75" y1="439.70" x2="489.60" y2="439.70" stroke="#000" stroke-width="1.3"/>
<line x1="398.50" y1="343.46" x2="398.50" y2="353.60" stroke="#828282" stroke-width="1.1"/>
<line x1="395.80" y1="343.46" x2="401.20" y2="343.46" stroke="#828282" stroke-width="1.1"/>
<line x1="395.80" y1="353.60" x2="401.20" y2="353.60" stroke="#828282" stroke-width="1.1"/>
<line x1="480.10" y1="340.43" x2="480.10" y2="348.53" stroke="#4cd98a" stroke-width="1.1"/>
<line x1="477.40" y1="340.43" x2="482.80" y2="340.43" stroke="#4cd98a" stroke-width="1.1"/>
<line x1="425.70" y1="348.53" x2="445.80" y2="338.40" stroke="#111" stroke-width="1.1" stroke-dasharray="1.2 1.6"/>
<line x1="425.70" y1="358.66" x2="447.00" y2="338.40" stroke="#111" stroke-width="1.1" stroke-dasharray="1.2 1.6"/>
<line x1="425.70" y1="368.79" x2="448.50" y2="338.40" stroke="#111" stroke-width="1.1" stroke-dasharray="1.2 1.6"/>
<line x1="425.70" y1="378.92" x2="450.00" y2="338.40" stroke="#111" stroke-width="1.1" stroke-dasharray="1.2 1.6"/>
<line x1="425.70" y1="389.05" x2="451.50" y2="338.40" stroke="#111" stroke-width="1.1" stroke-dasharray="1.2 1.6"/>
<line x1="425.70" y1="429.57" x2="452.50" y2="338.40" stroke="#111" stroke-width="1.1" stroke-dasharray="1.2 1.6"/>
<line x1="425.70" y1="439.70" x2="453.50" y2="338.40" stroke="#111" stroke-width="1.1" stroke-dasharray="1.2 1.6"/>
<line x1="425.70" y1="419.44" x2="453.00" y2="419.44" stroke="#111" stroke-width="1.1" stroke-dasharray="1.2 1.6"/>
<line x1="425.70" y1="439.70" x2="453.00" y2="389.05" stroke="#111" stroke-width="1.1" stroke-dasharray="1.2 1.6"/>
<line x1="425.70" y1="439.70" x2="453.00" y2="429.57" stroke="#111" stroke-width="1.1" stroke-dasharray="1.2 1.6"/>
<line x1="425.70" y1="439.70" x2="453.00" y2="439.70" stroke="#111" stroke-width="1.1" stroke-dasharray="1.2 1.6"/>
<circle cx="391.50" cy="338.40" r="1.75" fill="#f4f4f4" stroke="#828282" stroke-width="1.0"/>
<circle cx="393.60" cy="338.40" r="1.75" fill="#f4f4f4" stroke="#828282" stroke-width="1.0"/>
<circle cx="395.70" cy="338.40" r="1.75" fill="#f4f4f4" stroke="#828282" stroke-width="1.0"/>
<circle cx="397.80" cy="338.40" r="1.75" fill="#f4f4f4" stroke="#828282" stroke-width="1.0"/>
<circle cx="399.90" cy="338.40" r="1.75" fill="#f4f4f4" stroke="#828282" stroke-width="1.0"/>
<circle cx="402.00" cy="338.40" r="1.75" fill="#f4f4f4" stroke="#828282" stroke-width="1.0"/>
<circle cx="404.10" cy="338.40" r="1.75" fill="#f4f4f4" stroke="#828282" stroke-width="1.0"/>
<circle cx="406.20" cy="338.40" r="1.75" fill="#f4f4f4" stroke="#828282" stroke-width="1.0"/>
<circle cx="398.50" cy="348.53" r="1.75" fill="#f4f4f4" stroke="#828282" stroke-width="1.0"/>
<circle cx="398.50" cy="358.66" r="1.75" fill="#f4f4f4" stroke="#828282" stroke-width="1.0"/>
<circle cx="398.50" cy="378.92" r="1.75" fill="#f4f4f4" stroke="#828282" stroke-width="1.0"/>
<circle cx="398.50" cy="389.05" r="1.75" fill="#f4f4f4" stroke="#828282" stroke-width="1.0"/>
<circle cx="425.70" cy="348.53" r="1.7" fill="#ff66ff" stroke="#ff33ff" stroke-width="1.0"/>
<circle cx="425.70" cy="358.66" r="1.7" fill="#ff66ff" stroke="#ff33ff" stroke-width="1.0"/>
<circle cx="425.70" cy="368.79" r="1.7" fill="#ff66ff" stroke="#ff33ff" stroke-width="1.0"/>
<circle cx="425.70" cy="378.92" r="1.7" fill="#ff66ff" stroke="#ff33ff" stroke-width="1.0"/>
<circle cx="425.70" cy="389.05" r="1.7" fill="#ff66ff" stroke="#ff33ff" stroke-width="1.0"/>
<circle cx="425.70" cy="419.44" r="1.7" fill="#ff66ff" stroke="#ff33ff" stroke-width="1.0"/>
<circle cx="425.70" cy="429.57" r="1.7" fill="#ff66ff" stroke="#ff33ff" stroke-width="1.0"/>
<circle cx="425.70" cy="439.70" r="1.7" fill="#ff66ff" stroke="#ff33ff" stroke-width="1.0"/>
<circle cx="446.00" cy="338.40" r="1.75" fill="#fbe3c8" stroke="#f08424" stroke-width="1.0"/>
<circle cx="448.00" cy="338.40" r="1.75" fill="#fbe3c8" stroke="#f08424" stroke-width="1.0"/>
<circle cx="450.00" cy="338.40" r="1.75" fill="#fbe3c8" stroke="#f08424" stroke-width="1.0"/>
<circle cx="452.00" cy="338.40" r="1.75" fill="#fbe3c8" stroke="#f08424" stroke-width="1.0"/>
<circle cx="454.00" cy="338.40" r="1.75" fill="#fbe3c8" stroke="#f08424" stroke-width="1.0"/>
<circle cx="456.00" cy="338.40" r="1.75" fill="#fbe3c8" stroke="#f08424" stroke-width="1.0"/>
<circle cx="458.00" cy="338.40" r="1.75" fill="#fbe3c8" stroke="#f08424" stroke-width="1.0"/>
<circle cx="460.00" cy="338.40" r="1.75" fill="#fbe3c8" stroke="#f08424" stroke-width="1.0"/>
<circle cx="453.00" cy="389.05" r="1.75" fill="#fbe3c8" stroke="#f08424" stroke-width="1.0"/>
<circle cx="453.00" cy="419.44" r="1.75" fill="#fbe3c8" stroke="#f08424" stroke-width="1.0"/>
<circle cx="453.00" cy="429.57" r="1.75" fill="#fbe3c8" stroke="#f08424" stroke-width="1.0"/>
<circle cx="453.00" cy="439.70" r="1.75" fill="#fbe3c8" stroke="#f08424" stroke-width="1.0"/>
<circle cx="473.00" cy="338.40" r="1.75" fill="#d8fbe8" stroke="#4cd98a" stroke-width="1.0"/>
<circle cx="475.00" cy="338.40" r="1.75" fill="#d8fbe8" stroke="#4cd98a" stroke-width="1.0"/>
<circle cx="477.00" cy="338.40" r="1.75" fill="#d8fbe8" stroke="#4cd98a" stroke-width="1.0"/>
<circle cx="479.00" cy="338.40" r="1.75" fill="#d8fbe8" stroke="#4cd98a" stroke-width="1.0"/>
<circle cx="481.00" cy="338.40" r="1.75" fill="#d8fbe8" stroke="#4cd98a" stroke-width="1.0"/>
<circle cx="483.00" cy="338.40" r="1.75" fill="#d8fbe8" stroke="#4cd98a" stroke-width="1.0"/>
<circle cx="485.00" cy="338.40" r="1.75" fill="#d8fbe8" stroke="#4cd98a" stroke-width="1.0"/>
<circle cx="487.00" cy="338.40" r="1.75" fill="#d8fbe8" stroke="#4cd98a" stroke-width="1.0"/>
<circle cx="480.10" cy="348.53" r="1.75" fill="#d8fbe8" stroke="#4cd98a" stroke-width="1.0"/>
<circle cx="480.10" cy="378.92" r="1.75" fill="#d8fbe8" stroke="#4cd98a" stroke-width="1.0"/>
<path d="M398.40,269.90 L398.40,262.20 L480.60,262.20 L480.60,269.90" stroke="#000" stroke-width="1.3" fill="none"/>
<path d="M425.70,299.60 L425.70,291.90 L480.60,291.90 L480.60,299.60" stroke="#000" stroke-width="1.3" fill="none"/>
<path d="M398.40,329.50 L398.40,321.80 L423.40,321.80 L423.40,329.50" stroke="#000" stroke-width="1.3" fill="none"/>
<path d="M428.30,329.50 L428.30,321.80 L450.30,321.80 L450.30,329.50" stroke="#000" stroke-width="1.3" fill="none"/>
<path d="M455.40,329.50 L455.40,321.80 L480.60,321.80 L480.60,329.50" stroke="#000" stroke-width="1.3" fill="none"/>
<text x="439.30" y="254.50" font-size="11.6" fill="#000" font-weight="normal" text-anchor="middle" textLength="12.20" lengthAdjust="spacingAndGlyphs">ns</text>
<path d="M444.30,279.00 L444.30,285.80 M447.24,280.70 L441.36,284.10 M447.24,284.10 L441.36,280.70 " stroke="#000" stroke-width="1.15" fill="none"/>
<path d="M453.50,279.00 L453.50,285.80 M456.44,280.70 L450.56,284.10 M456.44,284.10 L450.56,280.70 " stroke="#000" stroke-width="1.15" fill="none"/>
<path d="M462.70,279.00 L462.70,285.80 M465.64,280.70 L459.76,284.10 M465.64,284.10 L459.76,280.70 " stroke="#000" stroke-width="1.15" fill="none"/>
<path d="M407.20,308.80 L407.20,315.60 M410.14,310.50 L404.26,313.90 M410.14,313.90 L404.26,310.50 " stroke="#000" stroke-width="1.15" fill="none"/>
<path d="M416.20,308.80 L416.20,315.60 M419.14,310.50 L413.26,313.90 M419.14,313.90 L413.26,310.50 " stroke="#000" stroke-width="1.15" fill="none"/>
<text x="439.50" y="314.60" font-size="11.6" fill="#000" font-weight="normal" text-anchor="middle" textLength="13.60" lengthAdjust="spacingAndGlyphs" stroke="#000" stroke-width="0.3">##</text>
<text x="467.60" y="314.70" font-size="11.6" fill="#000" font-weight="normal" text-anchor="middle" textLength="12.20" lengthAdjust="spacingAndGlyphs">ns</text>
<rect x="511.20" y="302.40" width="13.60" height="5.20" fill="#e7e8e7" stroke="#828282" stroke-width="1.8"/>
<text x="534.30" y="309.00" font-size="12.0" fill="#8c8c8c" font-weight="bold" text-anchor="start">Control</text>
<rect x="511.20" y="321.20" width="13.60" height="5.20" fill="#f2c8f2" stroke="#ff33ff" stroke-width="1.8"/>
<text x="534.30" y="327.90" font-size="12.0" fill="#ff33ff" font-weight="bold" text-anchor="start">General GABA-T KD</text>
<rect x="511.20" y="340.80" width="13.60" height="5.20" fill="#f6e0c4" stroke="#f08424" stroke-width="1.8"/>
<text x="534.30" y="347.60" font-size="12.0" fill="#ee8a30" font-weight="bold" text-anchor="start">General GABA-T KD + Bic</text>
<rect x="511.20" y="359.80" width="13.60" height="5.20" fill="#c2f8dc" stroke="#4cd98a" stroke-width="1.8"/>
<text x="534.30" y="366.60" font-size="12.0" fill="#4cd48a" font-weight="bold" text-anchor="start">Astrocytic GABA-T rescue</text>
<text x="125.00" y="495.30" font-size="14.6" fill="#000" font-weight="bold" text-anchor="start" textLength="69.20" lengthAdjust="spacingAndGlyphs" stroke="#000" stroke-width="0.35">Y-maze test</text>
<path d="M77.80,623.80 L97.00,623.80 L97.00,566.10 L145.10,540.50 L135.50,524.20 L87.40,550.20 L39.40,524.20 L29.20,540.50 L77.80,566.10 Z" stroke="none" stroke-width="0" fill="#e6e6e6"/>
<path d="M224.10,623.80 L243.30,623.80 L243.30,566.10 L291.40,540.50 L281.80,524.20 L233.70,550.20 L185.70,524.20 L175.50,540.50 L224.10,566.10 Z" stroke="none" stroke-width="0" fill="#e6e6e6"/>
<circle cx="86.60" cy="564.00" r="24.5" fill="none" stroke="#e0505e" stroke-width="1.1"/>
<path d="M86.8,533.2 L95.6,541.2 L86.4,549.2 Z" stroke="none" stroke-width="0" fill="#e0505e"/>
<path d="M103.6,566.2 L118.2,574.4 L106.8,577.6 Z" stroke="none" stroke-width="0" fill="#e0505e"/>
<path d="M72.4,575.4 L56.2,579.6 L63.8,570.0 Z" stroke="none" stroke-width="0" fill="#e0505e"/>
<path d="M240.6,585.5 C236,570 222,546 210.5,546.6 C204,548 214,566 226.5,583.5" stroke="none" stroke-width="0" fill="none"/>
<path d="M240.6,585.6 C237,572 226,552 213,546.5 C206,544.5 208,556 214,566 C218,573 222,579 226.2,584" stroke="#e0505e" stroke-width="1.1" fill="none"/>
<path d="M219.2,588.6 L233.6,581.2 L230.4,592.8 Z" stroke="none" stroke-width="0" fill="#e0505e"/>
<path d="M220.2,566.4 L219.6,554.8 L232.4,555.8 Z" stroke="none" stroke-width="0" fill="#e0505e"/>
<g transform="translate(87.30,603.60) rotate(0) scale(1.0)">
<path d="M0,5 C0,9 -1.2,12 0.5,15 C1.2,17 0,19 0.2,19.5" stroke="#a8706a" stroke-width="0.7" fill="none"/>
<ellipse cx="0" cy="0.8" rx="3.5" ry="5.6" fill="#3e3a3a"/>
<ellipse cx="0" cy="-5.0" rx="2.0" ry="3.0" fill="#3e3a3a"/>
<circle cx="-1.9" cy="-5.2" r="1.0" fill="#4a4545"/><circle cx="1.9" cy="-5.2" r="1.0" fill="#4a4545"/>
</g>
<g transform="translate(233.70,603.60) rotate(0) scale(1.0)">
<path d="M0,5 C0,9 -1.2,12 0.5,15 C1.2,17 0,19 0.2,19.5" stroke="#a8706a" stroke-width="0.7" fill="none"/>
<ellipse cx="0" cy="0.8" rx="3.5" ry="5.6" fill="#3e3a3a"/>
<ellipse cx="0" cy="-5.0" rx="2.0" ry="3.0" fill="#3e3a3a"/>
<circle cx="-1.9" cy="-5.2" r="1.0" fill="#4a4545"/><circle cx="1.9" cy="-5.2" r="1.0" fill="#4a4545"/>
</g>
<text x="30.30" y="532.00" font-size="7.0" fill="#333" font-weight="normal" text-anchor="middle">B</text>
<text x="144.30" y="532.00" font-size="7.0" fill="#333" font-weight="normal" text-anchor="middle">C</text>
<text x="86.80" y="632.00" font-size="8.0" fill="#333" font-weight="normal" text-anchor="middle" stroke="#333" stroke-width="0.15">A</text>
<text x="176.60" y="532.00" font-size="7.0" fill="#333" font-weight="normal" text-anchor="middle">B</text>
<text x="290.60" y="532.00" font-size="7.0" fill="#333" font-weight="normal" text-anchor="middle">C</text>
<text x="233.10" y="632.00" font-size="8.0" fill="#333" font-weight="normal" text-anchor="middle" stroke="#333" stroke-width="0.15">A</text>
<text x="87.20" y="643.70" font-size="8.4" fill="#000" font-weight="bold" text-anchor="middle" textLength="26.00" lengthAdjust="spacingAndGlyphs" stroke="#000" stroke-width="0.2">Correct</text>
<text x="234.60" y="643.70" font-size="8.4" fill="#000" font-weight="bold" text-anchor="middle" textLength="31.60" lengthAdjust="spacingAndGlyphs" stroke="#000" stroke-width="0.2">Incorrect</text>
<line x1="73.50" y1="709.00" x2="73.50" y2="856.75" stroke="#000" stroke-width="1.3"/>
<line x1="72.85" y1="856.10" x2="176.60" y2="856.10" stroke="#000" stroke-width="1.3"/>
<line x1="66.70" y1="856.10" x2="73.50" y2="856.10" stroke="#000" stroke-width="1.2"/>
<line x1="66.70" y1="826.78" x2="73.50" y2="826.78" stroke="#000" stroke-width="1.2"/>
<line x1="66.70" y1="797.46" x2="73.50" y2="797.46" stroke="#000" stroke-width="1.2"/>
<line x1="66.70" y1="768.14" x2="73.50" y2="768.14" stroke="#000" stroke-width="1.2"/>
<line x1="66.70" y1="738.82" x2="73.50" y2="738.82" stroke="#000" stroke-width="1.2"/>
<line x1="66.70" y1="709.50" x2="73.50" y2="709.50" stroke="#000" stroke-width="1.2"/>
<text x="65.30" y="860.40" font-size="10.6" fill="#000" font-weight="bold" text-anchor="end" textLength="5.80" lengthAdjust="spacingAndGlyphs" stroke="#000" stroke-width="0.25">0</text>
<text x="65.30" y="831.08" font-size="10.6" fill="#000" font-weight="bold" text-anchor="end" textLength="12.40" lengthAdjust="spacingAndGlyphs" stroke="#000" stroke-width="0.25">20</text>
<text x="65.30" y="801.76" font-size="10.6" fill="#000" font-weight="bold" text-anchor="end" textLength="12.40" lengthAdjust="spacingAndGlyphs" stroke="#000" stroke-width="0.25">40</text>
<text x="65.30" y="772.44" font-size="10.6" fill="#000" font-weight="bold" text-anchor="end" textLength="12.40" lengthAdjust="spacingAndGlyphs" stroke="#000" stroke-width="0.25">60</text>
<text x="65.30" y="743.12" font-size="10.6" fill="#000" font-weight="bold" text-anchor="end" textLength="12.40" lengthAdjust="spacingAndGlyphs" stroke="#000" stroke-width="0.25">80</text>
<text x="65.30" y="713.80" font-size="10.6" fill="#000" font-weight="bold" text-anchor="end" textLength="18.00" lengthAdjust="spacingAndGlyphs" stroke="#000" stroke-width="0.25">100</text>
<text x="38.80" y="782.30" font-size="12.6" fill="#000" font-weight="bold" text-anchor="middle" textLength="166.40" lengthAdjust="spacingAndGlyphs" transform="rotate(-90 38.80 782.30)" stroke="#000" stroke-width="0.3">Spontaneous alternation (%)</text>
<rect x="84.75" y="770.34" width="18.30" height="85.76" fill="#e7e8e7" stroke="#828282" stroke-width="2.2"/>
<rect x="115.55" y="760.22" width="18.30" height="95.88" fill="#f2c8f2" stroke="#ff33ff" stroke-width="2.2"/>
<rect x="146.30" y="769.61" width="18.30" height="86.49" fill="#c2f8dc" stroke="#4cd98a" stroke-width="2.2"/>
<line x1="72.85" y1="856.10" x2="176.60" y2="856.10" stroke="#000" stroke-width="1.3"/>
<line x1="93.50" y1="765.50" x2="93.50" y2="775.18" stroke="#828282" stroke-width="1.1"/>
<line x1="90.50" y1="765.50" x2="96.50" y2="765.50" stroke="#828282" stroke-width="1.1"/>
<line x1="90.50" y1="775.18" x2="96.50" y2="775.18" stroke="#828282" stroke-width="1.1"/>
<line x1="124.50" y1="755.24" x2="124.50" y2="765.21" stroke="#ff33ff" stroke-width="1.1"/>
<line x1="121.50" y1="755.24" x2="127.50" y2="755.24" stroke="#ff33ff" stroke-width="1.1"/>
<line x1="121.50" y1="765.21" x2="127.50" y2="765.21" stroke="#ff33ff" stroke-width="1.1"/>
<line x1="155.40" y1="768.14" x2="155.40" y2="771.07" stroke="#4cd98a" stroke-width="1.1"/>
<line x1="152.40" y1="768.14" x2="158.40" y2="768.14" stroke="#4cd98a" stroke-width="1.1"/>
<line x1="152.40" y1="771.07" x2="158.40" y2="771.07" stroke="#4cd98a" stroke-width="1.1"/>
<circle cx="93.50" cy="753.48" r="1.85" fill="none" stroke="#828282" stroke-width="1.2"/>
<circle cx="91.50" cy="756.41" r="1.85" fill="none" stroke="#828282" stroke-width="1.2"/>
<circle cx="93.80" cy="760.81" r="1.85" fill="none" stroke="#828282" stroke-width="1.2"/>
<circle cx="91.20" cy="765.21" r="1.85" fill="none" stroke="#828282" stroke-width="1.2"/>
<circle cx="95.40" cy="768.14" r="1.85" fill="none" stroke="#828282" stroke-width="1.2"/>
<circle cx="93.50" cy="775.47" r="1.85" fill="none" stroke="#828282" stroke-width="1.2"/>
<circle cx="93.50" cy="782.80" r="1.85" fill="none" stroke="#828282" stroke-width="1.2"/>
<circle cx="93.50" cy="797.46" r="1.85" fill="none" stroke="#828282" stroke-width="1.2"/>
<circle cx="124.50" cy="731.49" r="1.85" fill="none" stroke="#ff33ff" stroke-width="1.3"/>
<circle cx="124.50" cy="744.68" r="1.85" fill="none" stroke="#ff33ff" stroke-width="1.3"/>
<circle cx="124.50" cy="747.62" r="1.85" fill="none" stroke="#ff33ff" stroke-width="1.3"/>
<circle cx="124.50" cy="756.41" r="1.85" fill="none" stroke="#ff33ff" stroke-width="1.3"/>
<circle cx="122.50" cy="765.21" r="1.85" fill="none" stroke="#ff33ff" stroke-width="1.3"/>
<circle cx="126.50" cy="765.21" r="1.85" fill="none" stroke="#ff33ff" stroke-width="1.3"/>
<circle cx="124.50" cy="771.07" r="1.85" fill="none" stroke="#ff33ff" stroke-width="1.3"/>
<circle cx="121.80" cy="775.47" r="1.85" fill="none" stroke="#ff33ff" stroke-width="1.3"/>
<circle cx="127.20" cy="774.00" r="1.85" fill="none" stroke="#ff33ff" stroke-width="1.3"/>
<circle cx="155.40" cy="762.28" r="1.85" fill="none" stroke="#4cd98a" stroke-width="1.2"/>
<circle cx="149.50" cy="768.14" r="1.85" fill="none" stroke="#4cd98a" stroke-width="1.2"/>
<circle cx="153.50" cy="766.67" r="1.85" fill="none" stroke="#4cd98a" stroke-width="1.2"/>
<circle cx="157.40" cy="765.21" r="1.85" fill="none" stroke="#4cd98a" stroke-width="1.2"/>
<circle cx="161.30" cy="768.14" r="1.85" fill="none" stroke="#4cd98a" stroke-width="1.2"/>
<circle cx="152.50" cy="774.00" r="1.85" fill="none" stroke="#4cd98a" stroke-width="1.2"/>
<circle cx="158.30" cy="774.00" r="1.85" fill="none" stroke="#4cd98a" stroke-width="1.2"/>
<circle cx="155.40" cy="771.07" r="1.85" fill="none" stroke="#4cd98a" stroke-width="1.2"/>
<path d="M93.80,706.30 L93.80,682.90 L155.50,682.90 L155.50,691.10" stroke="#000" stroke-width="1.3" fill="none"/>
<path d="M93.80,744.10 L93.80,715.40 L122.10,715.40 L122.10,723.50" stroke="#000" stroke-width="1.3" fill="none"/>
<path d="M127.00,723.50 L127.00,715.40 L155.50,715.40 L155.50,753.00" stroke="#000" stroke-width="1.3" fill="none"/>
<text x="124.60" y="675.90" font-size="11.6" fill="#000" font-weight="normal" text-anchor="middle" textLength="10.50" lengthAdjust="spacingAndGlyphs">ns</text>
<text x="107.60" y="707.90" font-size="11.6" fill="#000" font-weight="normal" text-anchor="middle" textLength="10.80" lengthAdjust="spacingAndGlyphs">ns</text>
<text x="141.60" y="707.90" font-size="11.6" fill="#000" font-weight="normal" text-anchor="middle" textLength="10.50" lengthAdjust="spacingAndGlyphs">ns</text>
<rect x="179.20" y="721.20" width="14.80" height="7.20" fill="#e7e8e7" stroke="#828282" stroke-width="2.2"/>
<text x="204.50" y="729.20" font-size="12.6" fill="#8c8c8c" font-weight="bold" text-anchor="start" textLength="40.10" lengthAdjust="spacingAndGlyphs" stroke="#8c8c8c" stroke-width="0.3">Control</text>
<rect x="179.20" y="740.90" width="14.80" height="7.20" fill="#f2c8f2" stroke="#ff33ff" stroke-width="2.2"/>
<text x="204.50" y="747.80" font-size="12.6" fill="#ff33ff" font-weight="bold" text-anchor="start" textLength="106.00" lengthAdjust="spacingAndGlyphs" stroke="#ff33ff" stroke-width="0.3">General GABA-T KD</text>
<rect x="179.20" y="760.00" width="14.80" height="7.20" fill="#c2f8dc" stroke="#4cd98a" stroke-width="2.2"/>
<text x="204.50" y="767.50" font-size="12.6" fill="#4cd48a" font-weight="bold" text-anchor="start" textLength="138.00" lengthAdjust="spacingAndGlyphs" stroke="#4cd48a" stroke-width="0.3">Astrocytic GABA-T rescue</text>
<text x="437.50" y="495.20" font-size="14.6" fill="#000" font-weight="bold" text-anchor="start" textLength="166.70" lengthAdjust="spacingAndGlyphs" stroke="#000" stroke-width="0.35">Novel place recognition test</text>
<rect x="409.10" y="525.00" width="101.00" height="99.40" fill="#f1f2f5" stroke="#8a8a8a" stroke-width="1.0"/>
<rect x="538.50" y="525.00" width="101.00" height="99.40" fill="#f1f2f5" stroke="#8a8a8a" stroke-width="1.0"/>
<rect x="424.50" y="538.90" width="18.70" height="17.80" rx="4" ry="4" fill="#98cc7c" stroke="#8fb0d6" stroke-width="0.8"/>
<rect x="475.80" y="538.90" width="18.20" height="17.80" rx="4" ry="4" fill="#98cc7c" stroke="#8fb0d6" stroke-width="0.8"/>
<rect x="553.90" y="538.90" width="18.70" height="17.80" rx="4" ry="4" fill="#98cc7c" stroke="#8fb0d6" stroke-width="0.8"/>
<rect x="606.40" y="590.30" width="18.00" height="17.60" rx="4" ry="4" fill="#98cc7c" stroke="#8fb0d6" stroke-width="0.8"/>
<g transform="translate(464.40,580.60) rotate(-49)">
<path d="M0,7 C2,13 -3,18 -3,23 C-3,26 -2,28 1,29" stroke="#b07a70" stroke-width="0.8" fill="none"/>
<ellipse cx="0" cy="0.5" rx="4.3" ry="7.8" fill="#3c3838"/>
<ellipse cx="0" cy="-7.5" rx="2.5" ry="3.3" fill="#3c3838"/>
<ellipse cx="-2.6" cy="-7.2" rx="1.1" ry="1.3" fill="#4a4444"/><ellipse cx="2.6" cy="-7.2" rx="1.1" ry="1.3" fill="#4a4444"/>
</g>
<g transform="translate(598.80,571.10) rotate(140)">
<path d="M0,7 C-1,13 -2,18 -5,23 C-6,25 -8,26 -9,26" stroke="#b07a70" stroke-width="0.8" fill="none"/>
<ellipse cx="0" cy="0.5" rx="4.3" ry="7.8" fill="#3c3838"/>
<ellipse cx="0" cy="-7.5" rx="2.5" ry="3.3" fill="#3c3838"/>
<ellipse cx="-2.6" cy="-7.2" rx="1.1" ry="1.3" fill="#4a4444"/><ellipse cx="2.6" cy="-7.2" rx="1.1" ry="1.3" fill="#4a4444"/>
</g>
<text x="517.00" y="567.90" font-size="7.8" fill="#000" font-weight="bold" text-anchor="start" textLength="12.60" lengthAdjust="spacingAndGlyphs">1 hr</text>
<line x1="515.40" y1="574.70" x2="530.00" y2="574.70" stroke="#000" stroke-width="0.9"/>
<path d="M529.5,572.6 L533.6,574.7 L529.5,576.8 Z" stroke="none" stroke-width="0" fill="#000"/>
<text x="459.90" y="638.70" font-size="8.8" fill="#111" font-weight="normal" text-anchor="middle" textLength="38.10" lengthAdjust="spacingAndGlyphs" stroke="#111" stroke-width="0.25">Acquisition</text>
<text x="589.50" y="638.70" font-size="8.8" fill="#111" font-weight="normal" text-anchor="middle" textLength="30.00" lengthAdjust="spacingAndGlyphs" stroke="#111" stroke-width="0.25">Retrieval</text>
<line x1="427.40" y1="714.10" x2="427.40" y2="864.25" stroke="#000" stroke-width="1.3"/>
<line x1="426.75" y1="863.60" x2="516.70" y2="863.60" stroke="#000" stroke-width="1.3"/>
<line x1="423.60" y1="852.34" x2="427.50" y2="852.34" stroke="#000" stroke-width="1.1"/>
<line x1="423.60" y1="840.87" x2="427.50" y2="840.87" stroke="#000" stroke-width="1.1"/>
<line x1="421.00" y1="829.40" x2="427.50" y2="829.40" stroke="#000" stroke-width="1.1"/>
<line x1="423.60" y1="817.93" x2="427.50" y2="817.93" stroke="#000" stroke-width="1.1"/>
<line x1="423.60" y1="806.46" x2="427.50" y2="806.46" stroke="#000" stroke-width="1.1"/>
<line x1="423.60" y1="794.99" x2="427.50" y2="794.99" stroke="#000" stroke-width="1.1"/>
<line x1="423.60" y1="783.52" x2="427.50" y2="783.52" stroke="#000" stroke-width="1.1"/>
<line x1="421.00" y1="772.05" x2="427.50" y2="772.05" stroke="#000" stroke-width="1.1"/>
<line x1="423.60" y1="760.58" x2="427.50" y2="760.58" stroke="#000" stroke-width="1.1"/>
<line x1="423.60" y1="749.11" x2="427.50" y2="749.11" stroke="#000" stroke-width="1.1"/>
<line x1="423.60" y1="737.64" x2="427.50" y2="737.64" stroke="#000" stroke-width="1.1"/>
<line x1="423.60" y1="726.17" x2="427.50" y2="726.17" stroke="#000" stroke-width="1.1"/>
<line x1="421.00" y1="714.70" x2="427.50" y2="714.70" stroke="#000" stroke-width="1.1"/>
<text x="419.10" y="833.80" font-size="11.2" fill="#000" font-weight="bold" text-anchor="end" textLength="15.40" lengthAdjust="spacingAndGlyphs" stroke="#000" stroke-width="0.25">0.0</text>
<text x="419.10" y="776.45" font-size="11.2" fill="#000" font-weight="bold" text-anchor="end" textLength="15.40" lengthAdjust="spacingAndGlyphs" stroke="#000" stroke-width="0.25">0.5</text>
<text x="419.10" y="719.10" font-size="11.2" fill="#000" font-weight="bold" text-anchor="end" textLength="15.40" lengthAdjust="spacingAndGlyphs" stroke="#000" stroke-width="0.25">1.0</text>
<text x="380.20" y="789.20" font-size="11.6" fill="#000" font-weight="bold" text-anchor="middle" textLength="55.00" lengthAdjust="spacingAndGlyphs" transform="rotate(-90 380.20 789.20)" stroke="#000" stroke-width="0.2">Changes in</text>
<text x="395.60" y="788.70" font-size="11.6" fill="#000" font-weight="bold" text-anchor="middle" textLength="106.00" lengthAdjust="spacingAndGlyphs" transform="rotate(-90 395.60 788.70)" stroke="#000" stroke-width="0.2">discrimination index</text>
<rect x="437.60" y="770.90" width="15.20" height="58.50" fill="#e7e8e7" stroke="#828282" stroke-width="1.8"/>
<rect x="464.30" y="812.19" width="15.20" height="17.21" fill="#f2c8f2" stroke="#ff33ff" stroke-width="1.8"/>
<rect x="491.20" y="784.09" width="15.20" height="45.31" fill="#c2f8dc" stroke="#4cd98a" stroke-width="1.8"/>
<line x1="426.85" y1="829.40" x2="516.70" y2="829.40" stroke="#000" stroke-width="1.3"/>
<line x1="445.20" y1="761.50" x2="445.20" y2="779.85" stroke="#828282" stroke-width="1.1"/>
<line x1="442.40" y1="761.50" x2="448.00" y2="761.50" stroke="#828282" stroke-width="1.1"/>
<line x1="442.40" y1="779.85" x2="448.00" y2="779.85" stroke="#828282" stroke-width="1.1"/>
<line x1="471.90" y1="806.00" x2="471.90" y2="818.62" stroke="#ff33ff" stroke-width="1.1"/>
<line x1="469.10" y1="806.00" x2="474.70" y2="806.00" stroke="#ff33ff" stroke-width="1.1"/>
<line x1="469.10" y1="818.62" x2="474.70" y2="818.62" stroke="#ff33ff" stroke-width="1.1"/>
<line x1="498.80" y1="776.06" x2="498.80" y2="791.43" stroke="#4cd98a" stroke-width="1.1"/>
<line x1="496.00" y1="776.06" x2="501.60" y2="776.06" stroke="#4cd98a" stroke-width="1.1"/>
<line x1="496.00" y1="791.43" x2="501.60" y2="791.43" stroke="#4cd98a" stroke-width="1.1"/>
<circle cx="445.20" cy="728.46" r="1.85" fill="none" stroke="#828282" stroke-width="1.2"/>
<circle cx="445.20" cy="750.26" r="1.85" fill="none" stroke="#828282" stroke-width="1.2"/>
<circle cx="445.20" cy="755.99" r="1.85" fill="none" stroke="#828282" stroke-width="1.2"/>
<circle cx="445.20" cy="762.30" r="1.85" fill="none" stroke="#828282" stroke-width="1.2"/>
<circle cx="445.10" cy="780.54" r="1.85" fill="none" stroke="#828282" stroke-width="1.2"/>
<circle cx="445.20" cy="786.04" r="1.85" fill="none" stroke="#828282" stroke-width="1.2"/>
<circle cx="447.70" cy="797.40" r="1.85" fill="none" stroke="#828282" stroke-width="1.2"/>
<circle cx="442.40" cy="799.58" r="1.85" fill="none" stroke="#828282" stroke-width="1.2"/>
<circle cx="469.20" cy="786.04" r="1.85" fill="none" stroke="#ff33ff" stroke-width="1.3"/>
<circle cx="475.10" cy="787.76" r="1.85" fill="none" stroke="#ff33ff" stroke-width="1.3"/>
<circle cx="471.80" cy="795.79" r="1.85" fill="none" stroke="#ff33ff" stroke-width="1.3"/>
<circle cx="471.80" cy="815.52" r="1.85" fill="none" stroke="#ff33ff" stroke-width="1.3"/>
<circle cx="468.60" cy="818.85" r="1.85" fill="none" stroke="#ff33ff" stroke-width="1.3"/>
<circle cx="475.00" cy="818.85" r="1.85" fill="none" stroke="#ff33ff" stroke-width="1.3"/>
<circle cx="471.80" cy="822.75" r="1.85" fill="none" stroke="#ff33ff" stroke-width="1.3"/>
<circle cx="471.80" cy="826.53" r="1.85" fill="none" stroke="#ff33ff" stroke-width="1.3"/>
<circle cx="471.80" cy="838.12" r="1.85" fill="none" stroke="#ff33ff" stroke-width="1.3"/>
<circle cx="499.00" cy="754.85" r="1.85" fill="none" stroke="#4cd98a" stroke-width="1.2"/>
<circle cx="499.00" cy="761.15" r="1.85" fill="none" stroke="#4cd98a" stroke-width="1.2"/>
<circle cx="499.00" cy="772.74" r="1.85" fill="none" stroke="#4cd98a" stroke-width="1.2"/>
<circle cx="499.00" cy="780.54" r="1.85" fill="none" stroke="#4cd98a" stroke-width="1.2"/>
<circle cx="499.00" cy="786.04" r="1.85" fill="none" stroke="#4cd98a" stroke-width="1.2"/>
<circle cx="499.00" cy="791.55" r="1.85" fill="none" stroke="#4cd98a" stroke-width="1.2"/>
<circle cx="499.00" cy="808.98" r="1.85" fill="none" stroke="#4cd98a" stroke-width="1.2"/>
<circle cx="499.00" cy="813.34" r="1.85" fill="none" stroke="#4cd98a" stroke-width="1.2"/>
<path d="M444.90,686.30 L444.90,677.60 L499.20,677.60 L499.20,686.30" stroke="#000" stroke-width="1.3" fill="none"/>
<path d="M444.90,718.90 L444.90,710.80 L469.20,710.80 L469.20,777.20" stroke="#000" stroke-width="1.3" fill="none"/>
<path d="M474.70,777.20 L474.70,710.80 L499.20,710.80 L499.20,744.80" stroke="#000" stroke-width="1.3" fill="none"/>
<text x="472.10" y="670.30" font-size="11.6" fill="#000" font-weight="normal" text-anchor="middle" textLength="10.50" lengthAdjust="spacingAndGlyphs">ns</text>
<path d="M452.60,695.40 L452.60,703.20 M455.98,697.35 L449.22,701.25 M455.98,701.25 L449.22,697.35 " stroke="#000" stroke-width="1.7" fill="none"/>
<path d="M461.60,695.40 L461.60,703.20 M464.98,697.35 L458.22,701.25 M464.98,701.25 L458.22,697.35 " stroke="#000" stroke-width="1.7" fill="none"/>
<path d="M487.10,695.40 L487.10,703.20 M490.48,697.35 L483.72,701.25 M490.48,701.25 L483.72,697.35 " stroke="#000" stroke-width="1.7" fill="none"/>
<rect x="519.20" y="712.70" width="15.30" height="7.40" fill="#e7e8e7" stroke="#828282" stroke-width="2.2"/>
<text x="545.00" y="720.40" font-size="12.6" fill="#8c8c8c" font-weight="bold" text-anchor="start" textLength="39.60" lengthAdjust="spacingAndGlyphs" stroke="#8c8c8c" stroke-width="0.3">Control</text>
<rect x="519.20" y="731.90" width="15.30" height="7.40" fill="#f2c8f2" stroke="#ff33ff" stroke-width="2.2"/>
<text x="545.00" y="740.10" font-size="12.6" fill="#ff33ff" font-weight="bold" text-anchor="start" textLength="105.50" lengthAdjust="spacingAndGlyphs" stroke="#ff33ff" stroke-width="0.3">General GABA-T KD</text>
<rect x="519.20" y="751.80" width="15.30" height="7.40" fill="#c2f8dc" stroke="#4cd98a" stroke-width="2.2"/>
<text x="545.00" y="759.50" font-size="12.6" fill="#4cd48a" font-weight="bold" text-anchor="start" textLength="137.50" lengthAdjust="spacingAndGlyphs" stroke="#4cd48a" stroke-width="0.3">Astrocytic GABA-T rescue</text>
<line x1="520.70" y1="826.50" x2="520.70" y2="795.50" stroke="#62a3ec" stroke-width="1.5"/>
<path d="M517.8,797.2 L520.7,790.0 L523.6,797.2 Z" stroke="none" stroke-width="0" fill="#62a3ec"/>
<line x1="520.70" y1="832.30" x2="520.70" y2="854.00" stroke="#62a3ec" stroke-width="1.5"/>
<path d="M517.8,853.0 L520.7,860.4 L523.6,853.0 Z" stroke="none" stroke-width="0" fill="#62a3ec"/>
<text x="546.40" y="806.00" font-size="9.6" fill="#62a3ec" font-weight="bold" text-anchor="middle" textLength="24.20" lengthAdjust="spacingAndGlyphs" stroke="#62a3ec" stroke-width="0.15">Novel</text>
<text x="546.40" y="818.00" font-size="9.6" fill="#62a3ec" font-weight="bold" text-anchor="middle" textLength="34.50" lengthAdjust="spacingAndGlyphs" stroke="#62a3ec" stroke-width="0.15">location</text>
<text x="546.20" y="843.80" font-size="9.6" fill="#62a3ec" font-weight="bold" text-anchor="middle" textLength="33.90" lengthAdjust="spacingAndGlyphs" stroke="#62a3ec" stroke-width="0.15">Familiar</text>
<text x="546.20" y="855.80" font-size="9.6" fill="#62a3ec" font-weight="bold" text-anchor="middle" textLength="34.50" lengthAdjust="spacingAndGlyphs" stroke="#62a3ec" stroke-width="0.15">location</text>
</svg>
</body></html>
